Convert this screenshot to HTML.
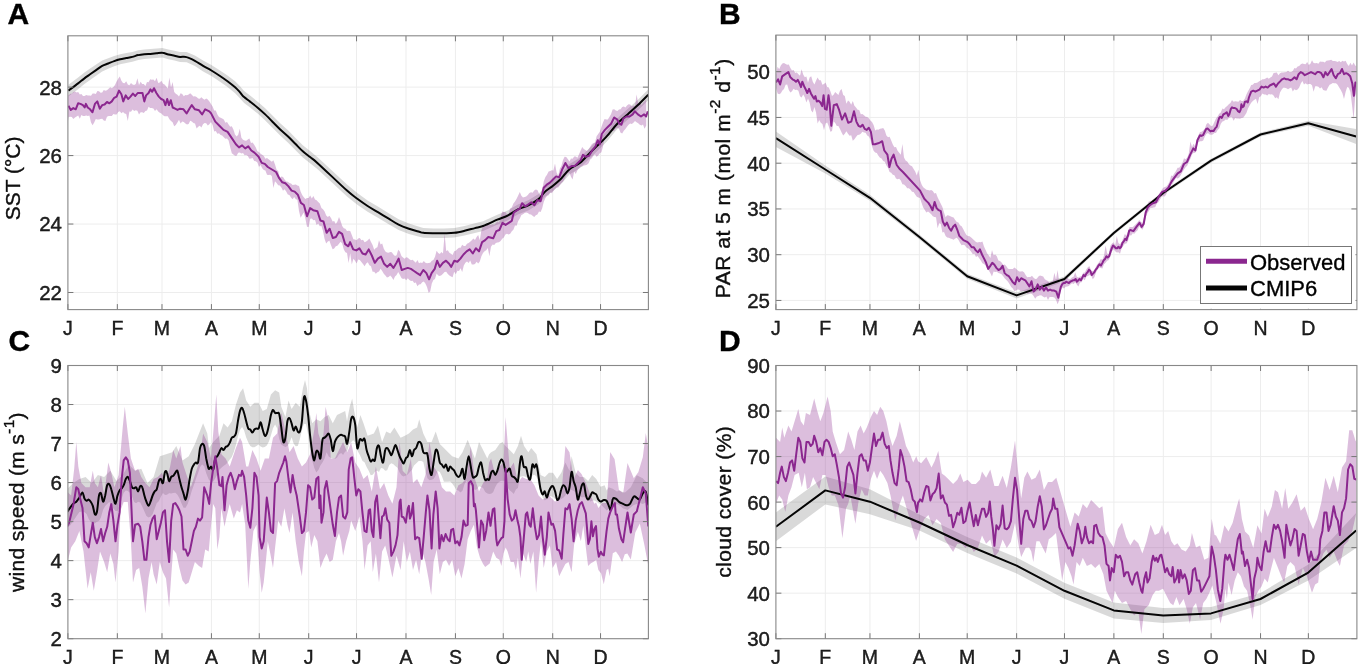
<!DOCTYPE html><html><head><meta charset="utf-8"><style>
html,body{margin:0;padding:0;background:#fff;width:1358px;height:664px;overflow:hidden}
svg{display:block}
text{font-family:"Liberation Sans", sans-serif;fill:#000}
svg{will-change:transform;filter:blur(0.45px)}
text{stroke:currentColor;stroke-width:0.35px}
.tl{font-size:19.5px;fill:#222}
.lab{font-size:21px;fill:#111}
.sup{font-size:15.5px}
.let{font-size:30px;font-weight:bold}
.grid{stroke:#ededed;stroke-width:1;fill:none}
.ax{stroke:#777;stroke-width:1;fill:none}
.box{stroke:#888;stroke-width:1.1;fill:none}
.pl{stroke:#8b278f;stroke-width:2;fill:none;stroke-linejoin:round}
.bl{stroke:#050505;stroke-width:2;fill:none;stroke-linejoin:round}
.pb{fill:#8b278f;fill-opacity:0.3;stroke:none}
.gb{fill:#000;fill-opacity:0.15;stroke:none}
</style></head><body>
<svg width="1358" height="664" viewBox="0 0 1358 664">

<line x1="117.34" y1="35.8" x2="117.34" y2="309.6" class="grid"/>
<line x1="161.99" y1="35.8" x2="161.99" y2="309.6" class="grid"/>
<line x1="211.43" y1="35.8" x2="211.43" y2="309.6" class="grid"/>
<line x1="259.27" y1="35.8" x2="259.27" y2="309.6" class="grid"/>
<line x1="308.71" y1="35.8" x2="308.71" y2="309.6" class="grid"/>
<line x1="356.56" y1="35.8" x2="356.56" y2="309.6" class="grid"/>
<line x1="405.99" y1="35.8" x2="405.99" y2="309.6" class="grid"/>
<line x1="455.43" y1="35.8" x2="455.43" y2="309.6" class="grid"/>
<line x1="503.27" y1="35.8" x2="503.27" y2="309.6" class="grid"/>
<line x1="552.71" y1="35.8" x2="552.71" y2="309.6" class="grid"/>
<line x1="600.56" y1="35.8" x2="600.56" y2="309.6" class="grid"/>
<line x1="67.9" y1="292.49" x2="648.4" y2="292.49" class="grid"/>
<line x1="67.9" y1="224.04" x2="648.4" y2="224.04" class="grid"/>
<line x1="67.9" y1="155.59" x2="648.4" y2="155.59" class="grid"/>
<line x1="67.9" y1="87.14" x2="648.4" y2="87.14" class="grid"/>
<line x1="825.32" y1="35.1" x2="825.32" y2="309.6" class="grid"/>
<line x1="869.96" y1="35.1" x2="869.96" y2="309.6" class="grid"/>
<line x1="919.38" y1="35.1" x2="919.38" y2="309.6" class="grid"/>
<line x1="967.21" y1="35.1" x2="967.21" y2="309.6" class="grid"/>
<line x1="1016.63" y1="35.1" x2="1016.63" y2="309.6" class="grid"/>
<line x1="1064.46" y1="35.1" x2="1064.46" y2="309.6" class="grid"/>
<line x1="1113.88" y1="35.1" x2="1113.88" y2="309.6" class="grid"/>
<line x1="1163.30" y1="35.1" x2="1163.30" y2="309.6" class="grid"/>
<line x1="1211.12" y1="35.1" x2="1211.12" y2="309.6" class="grid"/>
<line x1="1260.55" y1="35.1" x2="1260.55" y2="309.6" class="grid"/>
<line x1="1308.37" y1="35.1" x2="1308.37" y2="309.6" class="grid"/>
<line x1="775.9" y1="300.45" x2="1356.2" y2="300.45" class="grid"/>
<line x1="775.9" y1="254.70" x2="1356.2" y2="254.70" class="grid"/>
<line x1="775.9" y1="208.95" x2="1356.2" y2="208.95" class="grid"/>
<line x1="775.9" y1="163.20" x2="1356.2" y2="163.20" class="grid"/>
<line x1="775.9" y1="117.45" x2="1356.2" y2="117.45" class="grid"/>
<line x1="775.9" y1="71.70" x2="1356.2" y2="71.70" class="grid"/>
<line x1="117.34" y1="365.5" x2="117.34" y2="638.7" class="grid"/>
<line x1="161.99" y1="365.5" x2="161.99" y2="638.7" class="grid"/>
<line x1="211.43" y1="365.5" x2="211.43" y2="638.7" class="grid"/>
<line x1="259.27" y1="365.5" x2="259.27" y2="638.7" class="grid"/>
<line x1="308.71" y1="365.5" x2="308.71" y2="638.7" class="grid"/>
<line x1="356.56" y1="365.5" x2="356.56" y2="638.7" class="grid"/>
<line x1="405.99" y1="365.5" x2="405.99" y2="638.7" class="grid"/>
<line x1="455.43" y1="365.5" x2="455.43" y2="638.7" class="grid"/>
<line x1="503.27" y1="365.5" x2="503.27" y2="638.7" class="grid"/>
<line x1="552.71" y1="365.5" x2="552.71" y2="638.7" class="grid"/>
<line x1="600.56" y1="365.5" x2="600.56" y2="638.7" class="grid"/>
<line x1="67.9" y1="599.67" x2="648.4" y2="599.67" class="grid"/>
<line x1="67.9" y1="560.64" x2="648.4" y2="560.64" class="grid"/>
<line x1="67.9" y1="521.61" x2="648.4" y2="521.61" class="grid"/>
<line x1="67.9" y1="482.59" x2="648.4" y2="482.59" class="grid"/>
<line x1="67.9" y1="443.56" x2="648.4" y2="443.56" class="grid"/>
<line x1="67.9" y1="404.53" x2="648.4" y2="404.53" class="grid"/>
<line x1="825.32" y1="365.5" x2="825.32" y2="638.7" class="grid"/>
<line x1="869.96" y1="365.5" x2="869.96" y2="638.7" class="grid"/>
<line x1="919.38" y1="365.5" x2="919.38" y2="638.7" class="grid"/>
<line x1="967.21" y1="365.5" x2="967.21" y2="638.7" class="grid"/>
<line x1="1016.63" y1="365.5" x2="1016.63" y2="638.7" class="grid"/>
<line x1="1064.46" y1="365.5" x2="1064.46" y2="638.7" class="grid"/>
<line x1="1113.88" y1="365.5" x2="1113.88" y2="638.7" class="grid"/>
<line x1="1163.30" y1="365.5" x2="1163.30" y2="638.7" class="grid"/>
<line x1="1211.12" y1="365.5" x2="1211.12" y2="638.7" class="grid"/>
<line x1="1260.55" y1="365.5" x2="1260.55" y2="638.7" class="grid"/>
<line x1="1308.37" y1="365.5" x2="1308.37" y2="638.7" class="grid"/>
<line x1="775.9" y1="593.17" x2="1356.2" y2="593.17" class="grid"/>
<line x1="775.9" y1="547.63" x2="1356.2" y2="547.63" class="grid"/>
<line x1="775.9" y1="502.10" x2="1356.2" y2="502.10" class="grid"/>
<line x1="775.9" y1="456.57" x2="1356.2" y2="456.57" class="grid"/>
<line x1="775.9" y1="411.03" x2="1356.2" y2="411.03" class="grid"/>
<defs><clipPath id="cpA"><rect x="67.9" y="35.8" width="580.5" height="273.8"/></clipPath><clipPath id="cpB"><rect x="775.9" y="35.1" width="580.3" height="274.5"/></clipPath><clipPath id="cpC"><rect x="67.9" y="365.5" width="580.5" height="273.20000000000005"/></clipPath><clipPath id="cpD"><rect x="775.9" y="365.5" width="580.3" height="273.20000000000005"/></clipPath></defs>
<g clip-path="url(#cpA)">
<path class="gb" d="M68.4,84.8 L78.1,77.6 L84.1,72.8 L90.1,68.6 L96.1,64.5 L102.2,60.4 L108.2,58.2 L114.2,56.0 L120.2,54.2 L126.3,53.1 L132.3,51.9 L138.3,50.2 L144.3,49.4 L150.4,49.1 L156.4,48.6 L162.4,47.9 L168.4,49.6 L174.5,50.8 L180.0,51.9 L186.6,51.9 L194.9,55.5 L203.1,60.4 L211.4,64.9 L220.0,70.4 L227.5,75.5 L235.1,81.3 L239.6,85.8 L244.1,91.1 L250.1,95.6 L257.7,101.7 L265.2,108.3 L272.7,115.8 L280.2,123.3 L287.8,130.1 L295.3,137.7 L302.8,145.3 L310.4,151.3 L317.9,157.4 L347.0,184.6 L357.3,192.9 L367.6,200.4 L377.9,206.6 L388.3,212.9 L398.6,219.2 L408.9,223.5 L419.2,226.8 L423.3,228.0 L433.6,228.6 L443.9,228.6 L454.3,228.1 L464.6,226.0 L474.9,223.3 L483.1,221.2 L497.3,214.8 L507.6,210.6 L517.9,204.4 L528.3,200.2 L538.6,194.0 L544.8,186.6 L553.0,180.3 L561.3,173.2 L569.5,163.9 L579.8,157.7 L590.1,147.4 L596.6,140.9 L606.9,130.7 L617.3,118.3 L627.6,109.0 L637.9,99.8 L648.2,89.5 L648.2,100.2 L637.9,110.5 L627.6,119.8 L617.3,129.1 L606.9,141.5 L596.6,151.8 L590.1,158.0 L579.8,168.3 L569.5,174.5 L561.3,183.7 L553.0,191.1 L544.8,197.1 L538.6,204.2 L528.3,210.4 L517.9,214.4 L507.6,220.6 L497.3,224.7 L483.1,230.9 L474.9,232.9 L464.6,235.5 L454.3,237.5 L443.9,237.9 L433.6,237.9 L423.3,237.7 L419.2,236.8 L408.9,234.0 L398.6,230.0 L388.3,223.9 L377.9,217.8 L367.6,211.7 L357.3,204.7 L347.0,196.5 L317.9,169.4 L310.4,163.4 L302.8,157.4 L295.3,149.9 L287.8,142.4 L280.2,135.6 L272.7,128.1 L265.2,120.5 L257.7,113.6 L250.1,107.6 L244.1,103.1 L239.6,97.9 L235.1,93.3 L227.5,87.1 L220.0,81.7 L211.4,76.1 L203.1,71.4 L194.9,66.1 L186.6,62.2 L180.0,61.9 L174.5,60.6 L168.4,59.3 L162.4,57.4 L156.4,57.9 L150.4,58.6 L144.3,59.1 L138.3,59.9 L132.3,61.8 L126.3,63.1 L120.2,64.3 L114.2,66.2 L108.2,68.8 L102.2,71.4 L96.1,75.7 L90.1,80.1 L84.1,84.3 L78.1,89.2 L68.4,96.4 Z"/>
<path class="pb" d="M67.0,93.2 L68.6,95.4 L70.2,93.7 L71.8,93.8 L73.4,92.1 L75.0,91.4 L76.6,92.5 L78.2,92.0 L79.8,94.5 L81.4,94.1 L83.0,96.1 L84.6,96.1 L86.2,94.9 L87.8,95.6 L89.4,95.5 L91.0,95.8 L92.6,93.6 L94.2,93.5 L95.8,93.9 L97.4,90.9 L99.0,91.3 L100.6,92.8 L102.2,92.4 L103.8,90.1 L105.4,90.8 L107.0,90.2 L108.6,88.7 L110.2,87.2 L111.8,88.3 L113.4,86.9 L115.0,84.9 L116.6,81.6 L118.2,78.8 L119.8,76.4 L121.4,80.8 L123.0,82.9 L124.6,83.3 L126.2,81.3 L127.8,84.4 L129.4,85.3 L131.0,82.9 L132.6,84.5 L134.2,84.9 L135.8,83.9 L137.4,78.3 L139.0,85.1 L140.6,81.7 L142.2,84.1 L143.8,84.1 L145.4,85.9 L147.0,82.1 L148.6,82.2 L150.2,79.3 L151.8,79.8 L153.4,79.6 L155.0,81.3 L156.6,77.8 L158.2,82.9 L159.8,82.4 L161.4,80.7 L163.0,83.8 L164.6,84.6 L166.2,86.6 L167.8,88.4 L169.4,77.5 L171.0,87.4 L172.6,82.0 L174.2,91.9 L175.8,93.8 L177.4,94.7 L179.0,96.5 L180.6,93.3 L182.2,93.9 L183.8,96.3 L185.4,95.0 L187.0,95.2 L188.6,94.5 L190.2,93.3 L191.8,94.8 L193.4,96.4 L195.0,96.2 L196.6,97.0 L198.2,98.5 L199.8,98.7 L201.4,97.2 L203.0,98.7 L204.6,99.7 L206.2,98.4 L207.8,99.4 L209.4,101.4 L211.0,104.0 L212.6,106.4 L214.2,110.5 L215.8,110.5 L217.4,114.6 L219.0,117.0 L220.6,117.8 L222.2,118.5 L223.8,119.5 L225.4,122.7 L227.0,122.0 L228.6,124.4 L230.2,126.7 L231.8,126.3 L233.4,129.6 L235.0,134.5 L236.6,136.4 L238.2,134.7 L239.8,128.7 L241.4,137.7 L243.0,139.8 L244.6,140.4 L246.2,140.8 L247.8,139.4 L249.4,138.4 L251.0,143.0 L252.6,142.6 L254.2,144.8 L255.8,147.4 L257.4,151.3 L259.0,152.0 L260.6,153.8 L262.2,154.7 L263.8,156.1 L265.4,158.7 L267.0,158.1 L268.6,159.3 L270.2,160.5 L271.8,161.7 L273.4,160.3 L275.0,164.5 L276.6,169.8 L278.2,170.9 L279.8,177.8 L281.4,176.5 L283.0,177.1 L284.6,179.4 L286.2,181.5 L287.8,181.7 L289.4,183.1 L291.0,183.5 L292.6,185.0 L294.2,184.7 L295.8,184.4 L297.4,185.4 L299.0,186.0 L300.6,191.6 L302.2,194.9 L303.8,197.2 L305.4,199.0 L307.0,198.1 L308.6,198.1 L310.2,195.5 L311.8,198.4 L313.4,196.0 L315.0,199.5 L316.6,200.3 L318.2,202.0 L319.8,203.5 L321.4,208.1 L323.0,209.3 L324.6,211.5 L326.2,215.4 L327.8,216.9 L329.4,215.8 L331.0,218.0 L332.6,221.5 L334.2,220.9 L335.8,224.0 L337.4,221.4 L339.0,217.1 L340.6,221.0 L342.2,226.1 L343.8,228.3 L345.4,228.8 L347.0,231.1 L348.6,230.7 L350.2,231.1 L351.8,235.0 L353.4,239.2 L355.0,239.5 L356.6,240.3 L358.2,238.5 L359.8,237.9 L361.4,240.3 L363.0,239.7 L364.6,242.3 L366.2,241.6 L367.8,240.3 L369.4,238.4 L371.0,242.0 L372.6,245.1 L374.2,249.8 L375.8,248.0 L377.4,247.2 L379.0,240.3 L380.6,244.5 L382.2,243.6 L383.8,248.7 L385.4,251.4 L387.0,252.5 L388.6,252.7 L390.2,251.9 L391.8,252.3 L393.4,254.5 L395.0,256.1 L396.6,255.3 L398.2,249.8 L399.8,251.4 L401.4,255.9 L403.0,257.6 L404.6,258.8 L406.2,257.2 L407.8,257.7 L409.4,259.3 L411.0,260.3 L412.6,259.7 L414.2,261.2 L415.8,262.8 L417.4,260.1 L419.0,263.3 L420.6,262.4 L422.2,262.9 L423.8,261.0 L425.4,262.7 L427.0,263.2 L428.6,263.1 L430.2,262.7 L431.8,260.8 L433.4,259.9 L435.0,256.8 L436.6,250.8 L438.2,253.0 L439.8,254.1 L441.4,252.1 L443.0,253.5 L444.6,233.7 L446.2,251.0 L447.8,250.2 L449.4,252.7 L451.0,253.8 L452.6,254.9 L454.2,251.3 L455.8,250.7 L457.4,248.9 L459.0,247.7 L460.6,247.8 L462.2,244.8 L463.8,246.0 L465.4,245.9 L467.0,243.8 L468.6,243.1 L470.2,241.7 L471.8,240.3 L473.4,238.4 L475.0,240.0 L476.6,237.1 L478.2,234.9 L479.8,240.2 L481.4,230.3 L483.0,226.5 L484.6,225.5 L486.2,226.3 L487.8,224.0 L489.4,224.5 L491.0,225.0 L492.6,224.2 L494.2,224.7 L495.8,223.2 L497.4,221.5 L499.0,222.6 L500.6,217.0 L502.2,211.6 L503.8,212.0 L505.4,212.1 L507.0,214.2 L508.6,214.1 L510.2,208.5 L511.8,207.4 L513.4,203.6 L515.0,201.4 L516.6,198.7 L518.2,195.4 L519.8,192.1 L521.4,195.8 L523.0,197.6 L524.6,196.9 L526.2,196.4 L527.8,195.0 L529.4,192.9 L531.0,192.2 L532.6,192.7 L534.2,190.5 L535.8,189.5 L537.4,189.9 L539.0,193.5 L540.6,195.7 L542.2,189.8 L543.8,181.3 L545.4,177.1 L547.0,174.8 L548.6,171.6 L550.2,171.1 L551.8,170.3 L553.4,170.4 L555.0,163.5 L556.6,172.4 L558.2,175.7 L559.8,168.8 L561.4,166.1 L563.0,160.0 L564.6,156.8 L566.2,157.0 L567.8,158.9 L569.4,161.5 L571.0,158.5 L572.6,158.8 L574.2,156.4 L575.8,156.6 L577.4,157.7 L579.0,154.2 L580.6,150.7 L582.2,146.9 L583.8,149.0 L585.4,150.1 L587.0,150.9 L588.6,149.3 L590.2,146.7 L591.8,144.3 L593.4,143.1 L595.0,142.4 L596.6,136.2 L598.2,133.9 L599.8,131.7 L601.4,127.1 L603.0,122.6 L604.6,118.9 L606.2,119.5 L607.8,119.5 L609.4,117.1 L611.0,114.2 L612.6,109.6 L614.2,109.2 L615.8,110.4 L617.4,111.0 L619.0,109.4 L620.6,109.2 L622.2,106.9 L623.8,106.4 L625.4,107.5 L627.0,105.4 L628.6,104.3 L630.2,104.6 L631.8,106.5 L633.4,105.5 L635.0,105.9 L636.6,94.4 L638.2,103.5 L639.8,101.6 L641.4,105.1 L643.0,102.8 L644.6,101.2 L646.2,99.0 L646.2,125.4 L644.6,128.7 L643.0,124.4 L641.4,125.4 L639.8,124.8 L638.2,123.2 L636.6,122.3 L635.0,121.1 L633.4,122.8 L631.8,124.1 L630.2,123.4 L628.6,124.7 L627.0,126.7 L625.4,129.0 L623.8,130.8 L622.2,133.4 L620.6,132.7 L619.0,128.8 L617.4,128.0 L615.8,128.4 L614.2,131.0 L612.6,130.9 L611.0,131.3 L609.4,135.3 L607.8,135.8 L606.2,137.7 L604.6,138.6 L603.0,146.4 L601.4,152.3 L599.8,153.3 L598.2,155.4 L596.6,156.7 L595.0,154.5 L593.4,155.7 L591.8,158.2 L590.2,159.4 L588.6,163.3 L587.0,164.8 L585.4,165.2 L583.8,165.5 L582.2,166.6 L580.6,166.7 L579.0,168.2 L577.4,170.3 L575.8,173.9 L574.2,171.6 L572.6,179.4 L571.0,176.8 L569.4,172.7 L567.8,173.4 L566.2,175.7 L564.6,178.8 L563.0,181.7 L561.4,183.1 L559.8,185.2 L558.2,187.5 L556.6,187.6 L555.0,189.1 L553.4,190.9 L551.8,193.3 L550.2,192.4 L548.6,195.3 L547.0,195.9 L545.4,197.9 L543.8,201.7 L542.2,208.3 L540.6,211.9 L539.0,211.6 L537.4,214.5 L535.8,215.3 L534.2,216.9 L532.6,215.8 L531.0,214.6 L529.4,214.3 L527.8,212.9 L526.2,212.5 L524.6,212.9 L523.0,214.2 L521.4,214.9 L519.8,218.5 L518.2,220.9 L516.6,225.7 L515.0,225.6 L513.4,229.7 L511.8,231.2 L510.2,233.8 L508.6,234.4 L507.0,233.7 L505.4,234.6 L503.8,237.4 L502.2,238.8 L500.6,240.9 L499.0,242.3 L497.4,242.4 L495.8,243.0 L494.2,245.0 L492.6,244.4 L491.0,246.7 L489.4,256.2 L487.8,247.9 L486.2,250.3 L484.6,251.3 L483.0,253.0 L481.4,256.2 L479.8,261.5 L478.2,263.4 L476.6,261.7 L475.0,264.0 L473.4,264.6 L471.8,264.6 L470.2,260.5 L468.6,263.0 L467.0,261.6 L465.4,262.8 L463.8,265.5 L462.2,272.1 L460.6,268.2 L459.0,271.1 L457.4,270.7 L455.8,274.3 L454.2,271.7 L452.6,277.2 L451.0,276.4 L449.4,275.5 L447.8,274.0 L446.2,271.8 L444.6,271.9 L443.0,273.7 L441.4,275.3 L439.8,276.1 L438.2,275.6 L436.6,273.4 L435.0,278.9 L433.4,280.1 L431.8,283.4 L430.2,291.5 L428.6,292.8 L427.0,286.9 L425.4,283.4 L423.8,281.4 L422.2,282.2 L420.6,284.2 L419.0,284.5 L417.4,286.3 L415.8,282.6 L414.2,283.0 L412.6,280.8 L411.0,281.0 L409.4,280.1 L407.8,278.3 L406.2,280.3 L404.6,278.4 L403.0,279.1 L401.4,278.0 L399.8,274.8 L398.2,272.1 L396.6,275.1 L395.0,276.6 L393.4,280.0 L391.8,277.2 L390.2,275.6 L388.6,276.9 L387.0,277.5 L385.4,275.6 L383.8,273.8 L382.2,271.1 L380.6,268.8 L379.0,271.4 L377.4,272.2 L375.8,273.7 L374.2,271.8 L372.6,271.7 L371.0,266.2 L369.4,265.2 L367.8,262.3 L366.2,263.4 L364.6,266.2 L363.0,264.1 L361.4,261.9 L359.8,260.1 L358.2,259.4 L356.6,263.4 L355.0,260.7 L353.4,258.8 L351.8,264.5 L350.2,253.3 L348.6,262.9 L347.0,253.0 L345.4,252.2 L343.8,249.4 L342.2,243.6 L340.6,241.8 L339.0,243.7 L337.4,245.7 L335.8,246.3 L334.2,248.4 L332.6,249.3 L331.0,245.2 L329.4,240.7 L327.8,241.6 L326.2,243.5 L324.6,239.0 L323.0,230.9 L321.4,226.1 L319.8,226.3 L318.2,223.5 L316.6,224.9 L315.0,219.9 L313.4,220.3 L311.8,218.4 L310.2,218.8 L308.6,226.9 L307.0,226.8 L305.4,218.7 L303.8,212.5 L302.2,215.0 L300.6,217.7 L299.0,211.1 L297.4,199.8 L295.8,199.2 L294.2,197.1 L292.6,199.2 L291.0,197.4 L289.4,194.9 L287.8,194.5 L286.2,191.5 L284.6,189.2 L283.0,190.8 L281.4,187.6 L279.8,185.5 L278.2,185.3 L276.6,183.1 L275.0,181.2 L273.4,187.9 L271.8,175.9 L270.2,174.8 L268.6,174.9 L267.0,174.7 L265.4,170.4 L263.8,169.9 L262.2,168.3 L260.6,165.1 L259.0,166.9 L257.4,162.4 L255.8,161.3 L254.2,160.9 L252.6,158.0 L251.0,158.4 L249.4,158.7 L247.8,155.9 L246.2,155.1 L244.6,155.3 L243.0,152.9 L241.4,153.4 L239.8,152.4 L238.2,152.7 L236.6,155.8 L235.0,155.7 L233.4,154.5 L231.8,153.3 L230.2,147.2 L228.6,140.4 L227.0,138.5 L225.4,138.7 L223.8,137.3 L222.2,135.4 L220.6,134.9 L219.0,133.2 L217.4,133.8 L215.8,131.1 L214.2,131.5 L212.6,124.9 L211.0,122.0 L209.4,124.2 L207.8,125.4 L206.2,123.3 L204.6,123.1 L203.0,124.3 L201.4,127.4 L199.8,125.8 L198.2,126.7 L196.6,128.5 L195.0,123.5 L193.4,123.0 L191.8,121.4 L190.2,120.7 L188.6,124.1 L187.0,124.4 L185.4,123.6 L183.8,122.1 L182.2,121.6 L180.6,123.6 L179.0,119.8 L177.4,122.6 L175.8,124.9 L174.2,126.2 L172.6,122.3 L171.0,121.0 L169.4,119.2 L167.8,116.3 L166.2,116.2 L164.6,116.3 L163.0,115.2 L161.4,113.4 L159.8,112.7 L158.2,111.5 L156.6,109.2 L155.0,111.0 L153.4,108.4 L151.8,107.9 L150.2,107.9 L148.6,106.7 L147.0,110.5 L145.4,110.9 L143.8,112.9 L142.2,112.3 L140.6,112.3 L139.0,114.4 L137.4,110.7 L135.8,110.3 L134.2,110.9 L132.6,109.5 L131.0,111.7 L129.4,111.6 L127.8,121.0 L126.2,114.0 L124.6,113.6 L123.0,112.0 L121.4,113.2 L119.8,111.3 L118.2,112.0 L116.6,114.6 L115.0,114.5 L113.4,114.1 L111.8,116.0 L110.2,116.0 L108.6,115.9 L107.0,116.8 L105.4,120.9 L103.8,120.4 L102.2,118.7 L100.6,118.9 L99.0,119.6 L97.4,119.4 L95.8,119.0 L94.2,122.6 L92.6,125.3 L91.0,122.4 L89.4,115.4 L87.8,116.0 L86.2,115.5 L84.6,116.0 L83.0,116.0 L81.4,115.1 L79.8,118.8 L78.2,115.5 L76.6,116.6 L75.0,117.4 L73.4,119.0 L71.8,117.0 L70.2,116.7 L68.6,117.1 L67.0,127.5 Z"/>
<path class="bl" d="M68.4,90.6 C70.0,89.4 75.5,85.4 78.1,83.4 C80.7,81.4 82.1,80.1 84.1,78.6 C86.1,77.0 88.1,75.7 90.1,74.3 C92.1,72.9 94.1,71.5 96.1,70.1 C98.2,68.7 100.2,67.0 102.2,65.9 C104.2,64.8 106.2,64.3 108.2,63.5 C110.2,62.7 112.2,61.8 114.2,61.1 C116.2,60.4 118.2,59.8 120.2,59.3 C122.2,58.8 124.3,58.5 126.3,58.1 C128.3,57.7 130.3,57.4 132.3,56.9 C134.3,56.4 136.3,55.5 138.3,55.1 C140.3,54.6 142.3,54.4 144.3,54.2 C146.3,54.0 148.4,54.0 150.4,53.9 C152.4,53.7 154.4,53.5 156.4,53.3 C158.4,53.1 160.4,52.4 162.4,52.7 C164.4,52.9 166.4,54.0 168.4,54.5 C170.4,55.0 172.5,55.3 174.5,55.7 C176.4,56.1 178.0,56.6 180.0,56.9 C182.0,57.1 184.2,56.4 186.6,57.1 C189.1,57.7 192.1,59.3 194.9,60.8 C197.6,62.3 200.4,64.3 203.1,65.9 C205.9,67.6 208.6,68.8 211.4,70.5 C214.2,72.2 217.3,74.2 220.0,76.0 C222.7,77.8 225.0,79.4 227.5,81.3 C230.0,83.2 233.1,85.6 235.1,87.3 C237.1,89.1 238.1,90.2 239.6,91.8 C241.1,93.5 242.3,95.5 244.1,97.1 C245.9,98.7 247.9,99.9 250.1,101.6 C252.4,103.4 255.1,105.5 257.7,107.7 C260.2,109.8 262.7,112.0 265.2,114.4 C267.7,116.8 270.2,119.4 272.7,122.0 C275.2,124.5 277.7,127.1 280.2,129.5 C282.8,131.9 285.3,133.9 287.8,136.3 C290.3,138.6 292.8,141.3 295.3,143.8 C297.8,146.3 300.3,149.1 302.8,151.3 C305.3,153.6 307.9,155.3 310.4,157.3 C312.9,159.4 311.8,157.8 317.9,163.4 C324.0,168.9 340.4,184.7 347.0,190.6 C353.6,196.5 353.9,196.2 357.3,198.8 C360.8,201.4 364.2,203.8 367.6,206.0 C371.1,208.3 374.5,210.2 377.9,212.2 C381.4,214.3 384.8,216.3 388.3,218.4 C391.7,220.5 395.1,222.9 398.6,224.6 C402.0,226.3 405.4,227.5 408.9,228.7 C412.3,229.9 416.8,231.1 419.2,231.8 C421.6,232.5 420.9,232.6 423.3,232.8 C425.7,233.1 430.2,233.2 433.6,233.3 C437.1,233.3 440.5,233.3 443.9,233.3 C447.4,233.2 450.8,233.3 454.3,232.8 C457.7,232.4 461.1,231.6 464.6,230.8 C468.0,230.0 471.8,228.9 474.9,228.1 C478.0,227.3 479.4,227.4 483.1,226.0 C486.9,224.6 493.2,221.5 497.3,219.7 C501.4,218.0 504.2,217.3 507.6,215.6 C511.1,213.9 514.5,211.1 517.9,209.4 C521.4,207.7 524.8,207.0 528.3,205.3 C531.7,203.6 535.8,201.3 538.6,199.1 C541.3,196.9 542.3,194.1 544.8,191.9 C547.2,189.6 550.3,187.9 553.0,185.7 C555.8,183.5 558.5,181.2 561.3,178.5 C564.0,175.7 566.4,171.8 569.5,169.2 C572.6,166.6 576.4,165.8 579.8,163.0 C583.3,160.3 587.3,155.5 590.1,152.7 C592.9,149.9 593.8,149.2 596.6,146.4 C599.4,143.6 603.5,139.9 606.9,136.1 C610.4,132.3 613.8,127.3 617.3,123.7 C620.7,120.1 624.1,117.5 627.6,114.4 C631.0,111.3 634.4,108.4 637.9,105.1 C641.3,101.9 646.5,96.5 648.2,94.8"/>
<path class="pl" d="M68.4,105.7 L70.8,109.9 L73.3,108.1 L75.7,109.3 L78.1,103.3 L80.5,103.9 L82.9,105.1 L84.7,107.5 L85.9,103.9 L87.7,107.5 L90.1,109.3 L92.5,112.3 L94.9,103.9 L97.3,101.4 L99.8,108.7 L102.2,105.1 L104.6,104.5 L107.0,102.0 L109.4,103.3 L111.8,101.4 L114.2,97.8 L116.6,96.6 L119.0,90.6 L121.4,94.2 L123.3,101.4 L125.7,95.4 L128.1,99.0 L130.5,96.6 L132.9,93.6 L135.3,96.0 L137.7,93.0 L140.1,93.0 L142.5,93.0 L144.3,101.4 L146.1,95.4 L148.6,93.0 L150.4,89.4 L152.2,91.8 L154.0,88.2 L156.4,93.0 L158.8,96.6 L161.2,99.0 L163.6,100.2 L165.4,105.1 L167.2,99.0 L169.0,105.1 L170.8,100.2 L172.7,107.5 L175.1,108.7 L177.5,109.9 L180.0,108.7 L183.5,109.3 L186.6,113.4 L189.7,108.2 L191.8,105.1 L194.9,109.3 L199.0,110.3 L202.1,114.4 L205.2,109.3 L209.3,111.3 L211.1,113.4 L215.3,121.6 L219.4,125.8 L223.5,129.9 L227.6,131.9 L231.8,138.1 L235.9,144.3 L239.0,147.4 L242.1,145.4 L245.2,148.4 L248.3,146.4 L251.3,150.5 L254.4,152.6 L258.6,156.7 L261.7,162.9 L264.8,163.9 L267.8,167.0 L276.1,172.0 L279.2,178.2 L282.3,182.3 L285.4,183.3 L288.5,186.4 L291.6,190.6 L294.7,191.6 L297.8,194.7 L300.9,202.9 L303.9,205.0 L307.0,216.3 L310.1,208.1 L313.2,210.2 L317.4,211.2 L320.4,220.5 L323.5,221.5 L326.6,232.8 L329.7,228.7 L332.8,238.0 L335.9,237.0 L339.0,231.8 L342.1,233.9 L345.2,244.2 L348.3,246.3 L350.1,242.1 L353.2,249.4 L356.3,250.4 L359.4,248.3 L362.5,253.5 L365.6,254.5 L368.7,249.4 L371.8,255.5 L374.8,262.8 L377.9,258.6 L381.0,256.6 L384.1,263.8 L387.2,266.9 L390.3,263.8 L393.4,267.9 L396.5,262.8 L398.6,258.6 L401.7,270.0 L404.8,268.9 L407.8,267.9 L410.9,268.9 L414.0,271.0 L417.1,273.1 L420.2,275.1 L423.3,270.0 L426.4,273.1 L429.1,279.3 L431.6,273.1 L434.7,268.9 L437.1,260.7 L439.8,266.9 L442.9,262.8 L446.0,260.7 L449.1,263.8 L451.2,266.9 L454.3,260.7 L457.4,261.7 L460.4,258.6 L463.5,254.5 L466.6,251.4 L469.7,249.4 L472.8,253.5 L475.9,248.3 L479.0,251.4 L482.1,242.1 L485.2,240.1 L488.3,237.0 L493.2,238.3 L496.3,231.1 L499.4,230.0 L502.5,222.8 L505.6,224.9 L508.7,222.8 L511.8,220.8 L513.8,212.5 L516.9,210.4 L520.0,208.4 L522.1,203.2 L525.2,206.3 L528.3,204.3 L531.3,202.2 L534.4,205.3 L537.5,200.1 L540.6,201.2 L543.7,187.8 L546.8,184.7 L549.9,182.6 L553.0,179.5 L556.1,176.4 L559.2,177.4 L562.3,169.2 L565.4,163.0 L568.5,168.2 L571.6,166.1 L574.7,166.1 L577.8,163.0 L580.9,159.9 L582.9,154.8 L586.0,156.8 L589.1,155.8 L592.2,150.6 L595.3,146.5 L595.6,146.4 L597.7,140.2 L599.7,144.3 L601.8,134.0 L604.9,129.9 L608.0,126.8 L611.1,123.7 L614.2,117.5 L617.3,119.6 L619.3,123.7 L621.4,124.7 L623.4,118.5 L626.5,116.5 L629.6,116.5 L632.7,114.4 L634.8,111.3 L637.9,114.4 L641.0,116.5 L644.1,114.4 L646.1,116.5 L647.8,111.3"/>
</g>
<g clip-path="url(#cpB)">
<path class="gb" d="M775.9,131.6 L825.3,165.5 L869.9,194.8 L919.4,234.5 L967.2,273.7 L1016.6,292.4 L1064.4,276.5 L1113.8,231.0 L1163.2,191.0 L1211.0,158.7 L1260.5,132.5 L1308.3,120.8 L1356.1,129.0 L1356.1,144.0 L1308.3,125.8 L1260.5,136.5 L1211.0,162.7 L1163.2,195.0 L1113.8,235.0 L1064.4,281.5 L1016.6,298.4 L967.2,278.7 L919.4,239.5 L869.9,200.8 L825.3,173.5 L775.9,147.1 Z"/>
<path class="pb" d="M776.0,74.5 L777.6,66.8 L779.2,69.3 L780.8,65.6 L782.4,63.6 L784.0,63.0 L785.6,64.1 L787.2,64.7 L788.8,64.6 L790.4,67.9 L792.0,70.4 L793.6,70.1 L795.2,73.1 L796.8,72.4 L798.4,74.2 L800.0,75.8 L801.6,69.3 L803.2,74.5 L804.8,77.3 L806.4,76.5 L808.0,82.8 L809.6,77.6 L811.2,76.2 L812.8,81.7 L814.4,84.4 L816.0,80.8 L817.6,77.5 L819.2,80.3 L820.8,80.3 L822.4,84.7 L824.0,83.9 L825.6,82.6 L827.2,87.1 L828.8,87.5 L830.4,91.2 L832.0,96.1 L833.6,94.7 L835.2,92.1 L836.8,93.6 L838.4,95.0 L840.0,90.8 L841.6,88.9 L843.2,95.1 L844.8,96.1 L846.4,103.7 L848.0,100.5 L849.6,101.8 L851.2,104.8 L852.8,101.0 L854.4,105.7 L856.0,107.4 L857.6,109.7 L859.2,109.9 L860.8,114.3 L862.4,114.1 L864.0,115.3 L865.6,116.8 L867.2,116.9 L868.8,118.3 L870.4,120.5 L872.0,122.0 L873.6,125.1 L875.2,130.5 L876.8,129.4 L878.4,129.7 L880.0,128.7 L881.6,128.4 L883.2,128.0 L884.8,130.6 L886.4,135.6 L888.0,137.3 L889.6,136.8 L891.2,140.6 L892.8,144.6 L894.4,147.2 L896.0,147.0 L897.6,150.8 L899.2,152.7 L900.8,154.8 L902.4,143.9 L904.0,157.5 L905.6,160.6 L907.2,161.5 L908.8,164.1 L910.4,165.4 L912.0,166.3 L913.6,168.9 L915.2,171.6 L916.8,175.6 L918.4,169.8 L920.0,179.9 L921.6,184.4 L923.2,187.2 L924.8,188.5 L926.4,189.8 L928.0,190.1 L929.6,190.6 L931.2,190.1 L932.8,191.1 L934.4,193.6 L936.0,193.0 L937.6,197.2 L939.2,200.4 L940.8,203.8 L942.4,207.1 L944.0,212.5 L945.6,217.2 L947.2,215.3 L948.8,215.6 L950.4,216.2 L952.0,216.9 L953.6,217.6 L955.2,220.0 L956.8,222.0 L958.4,222.6 L960.0,225.3 L961.6,226.3 L963.2,229.1 L964.8,232.3 L966.4,235.0 L968.0,236.0 L969.6,236.3 L971.2,237.6 L972.8,238.9 L974.4,240.5 L976.0,242.1 L977.6,242.6 L979.2,242.0 L980.8,242.3 L982.4,241.6 L984.0,246.6 L985.6,250.1 L987.2,253.6 L988.8,255.4 L990.4,258.0 L992.0,249.9 L993.6,255.2 L995.2,254.6 L996.8,256.2 L998.4,260.4 L1000.0,261.1 L1001.6,262.6 L1003.2,265.1 L1004.8,264.6 L1006.4,266.3 L1008.0,268.7 L1009.6,269.1 L1011.2,269.0 L1012.8,269.0 L1014.4,267.6 L1016.0,268.8 L1017.6,270.3 L1019.2,271.6 L1020.8,271.4 L1022.4,271.3 L1024.0,272.3 L1025.6,275.1 L1027.2,277.3 L1028.8,277.0 L1030.4,277.0 L1032.0,275.7 L1033.6,277.8 L1035.2,279.1 L1036.8,278.8 L1038.4,276.6 L1040.0,275.4 L1041.6,276.0 L1043.2,276.6 L1044.8,279.3 L1046.4,280.2 L1048.0,281.1 L1049.6,282.7 L1051.2,281.5 L1052.8,281.1 L1054.4,272.8 L1056.0,279.6 L1057.6,269.9 L1059.2,282.0 L1060.8,283.5 L1062.4,279.1 L1064.0,278.5 L1065.6,278.4 L1067.2,277.2 L1068.8,279.3 L1070.4,279.0 L1072.0,277.4 L1073.6,276.8 L1075.2,272.3 L1076.8,276.7 L1078.4,277.4 L1080.0,276.4 L1081.6,276.3 L1083.2,272.8 L1084.8,272.4 L1086.4,269.3 L1088.0,266.9 L1089.6,266.2 L1091.2,271.0 L1092.8,271.0 L1094.4,270.1 L1096.0,266.4 L1097.6,264.1 L1099.2,261.9 L1100.8,259.0 L1102.4,259.8 L1104.0,255.5 L1105.6,245.6 L1107.2,253.4 L1108.8,254.0 L1110.4,245.8 L1112.0,243.4 L1113.6,242.3 L1115.2,245.2 L1116.8,236.1 L1118.4,243.0 L1120.0,244.3 L1121.6,241.9 L1123.2,238.2 L1124.8,234.0 L1126.4,235.6 L1128.0,231.3 L1129.6,227.1 L1131.2,226.9 L1132.8,226.9 L1134.4,225.4 L1136.0,224.1 L1137.6,222.2 L1139.2,220.0 L1140.8,221.8 L1142.4,223.0 L1144.0,217.6 L1145.6,210.6 L1147.2,204.9 L1148.8,201.6 L1150.4,201.3 L1152.0,200.8 L1153.6,199.6 L1155.2,198.3 L1156.8,196.7 L1158.4,194.9 L1160.0,192.6 L1161.6,190.1 L1163.2,187.7 L1164.8,187.0 L1166.4,186.5 L1168.0,184.4 L1169.6,181.4 L1171.2,175.4 L1172.8,176.0 L1174.4,173.2 L1176.0,171.1 L1177.6,167.7 L1179.2,167.8 L1180.8,165.4 L1182.4,163.0 L1184.0,158.3 L1185.6,159.2 L1187.2,157.8 L1188.8,153.5 L1190.4,141.4 L1192.0,147.1 L1193.6,143.8 L1195.2,146.8 L1196.8,140.0 L1198.4,135.2 L1200.0,132.1 L1201.6,131.8 L1203.2,130.4 L1204.8,128.8 L1206.4,124.2 L1208.0,122.8 L1209.6,124.4 L1211.2,126.2 L1212.8,125.5 L1214.4,121.9 L1216.0,118.6 L1217.6,116.4 L1219.2,113.8 L1220.8,112.6 L1222.4,108.5 L1224.0,109.2 L1225.6,107.2 L1227.2,106.0 L1228.8,104.3 L1230.4,103.1 L1232.0,100.1 L1233.6,101.8 L1235.2,101.2 L1236.8,101.6 L1238.4,101.8 L1240.0,100.1 L1241.6,101.1 L1243.2,100.9 L1244.8,98.7 L1246.4,94.4 L1248.0,91.2 L1249.6,88.4 L1251.2,85.1 L1252.8,84.7 L1254.4,83.0 L1256.0,83.0 L1257.6,82.5 L1259.2,81.3 L1260.8,80.4 L1262.4,79.3 L1264.0,79.2 L1265.6,78.5 L1267.2,77.5 L1268.8,78.8 L1270.4,77.5 L1272.0,76.5 L1273.6,73.1 L1275.2,72.8 L1276.8,72.5 L1278.4,75.2 L1280.0,73.3 L1281.6,72.5 L1283.2,72.6 L1284.8,72.3 L1286.4,72.0 L1288.0,70.8 L1289.6,71.9 L1291.2,72.1 L1292.8,71.0 L1294.4,68.1 L1296.0,68.4 L1297.6,66.6 L1299.2,65.9 L1300.8,64.2 L1302.4,63.4 L1304.0,64.0 L1305.6,64.3 L1307.2,61.9 L1308.8,64.9 L1310.4,63.8 L1312.0,60.2 L1313.6,63.0 L1315.2,63.2 L1316.8,63.0 L1318.4,63.7 L1320.0,61.4 L1321.6,61.7 L1323.2,61.7 L1324.8,62.6 L1326.4,60.7 L1328.0,60.5 L1329.6,60.2 L1331.2,59.7 L1332.8,61.0 L1334.4,61.0 L1336.0,61.3 L1337.6,61.9 L1339.2,60.9 L1340.8,62.3 L1342.4,60.8 L1344.0,61.4 L1345.6,60.7 L1347.2,63.9 L1348.8,65.9 L1350.4,62.7 L1352.0,65.5 L1353.6,62.6 L1355.2,65.6 L1356.8,66.6 L1356.8,92.4 L1355.2,95.9 L1353.6,119.6 L1352.0,104.7 L1350.4,91.9 L1348.8,87.7 L1347.2,87.1 L1345.6,92.0 L1344.0,98.9 L1342.4,93.3 L1340.8,90.0 L1339.2,87.5 L1337.6,84.8 L1336.0,83.2 L1334.4,83.3 L1332.8,83.1 L1331.2,84.0 L1329.6,84.8 L1328.0,87.5 L1326.4,90.8 L1324.8,90.4 L1323.2,89.9 L1321.6,87.3 L1320.0,88.6 L1318.4,86.8 L1316.8,86.2 L1315.2,86.2 L1313.6,91.7 L1312.0,85.2 L1310.4,84.0 L1308.8,84.1 L1307.2,84.6 L1305.6,83.3 L1304.0,84.4 L1302.4,81.1 L1300.8,83.6 L1299.2,87.6 L1297.6,89.6 L1296.0,90.3 L1294.4,89.3 L1292.8,91.5 L1291.2,87.6 L1289.6,88.2 L1288.0,89.2 L1286.4,88.3 L1284.8,87.7 L1283.2,87.8 L1281.6,89.8 L1280.0,92.4 L1278.4,99.2 L1276.8,97.3 L1275.2,98.2 L1273.6,95.6 L1272.0,94.3 L1270.4,94.5 L1268.8,94.0 L1267.2,95.6 L1265.6,94.6 L1264.0,94.5 L1262.4,93.5 L1260.8,96.3 L1259.2,97.2 L1257.6,103.9 L1256.0,98.8 L1254.4,99.8 L1252.8,100.9 L1251.2,102.8 L1249.6,105.6 L1248.0,108.4 L1246.4,113.1 L1244.8,115.6 L1243.2,117.8 L1241.6,118.1 L1240.0,118.8 L1238.4,118.6 L1236.8,118.4 L1235.2,118.0 L1233.6,120.8 L1232.0,117.2 L1230.4,117.3 L1228.8,118.0 L1227.2,119.9 L1225.6,119.4 L1224.0,121.0 L1222.4,121.5 L1220.8,123.8 L1219.2,128.6 L1217.6,130.0 L1216.0,133.0 L1214.4,132.9 L1212.8,134.6 L1211.2,134.7 L1209.6,134.6 L1208.0,133.1 L1206.4,134.0 L1204.8,136.5 L1203.2,140.5 L1201.6,141.3 L1200.0,141.2 L1198.4,142.2 L1196.8,146.4 L1195.2,153.0 L1193.6,152.7 L1192.0,154.6 L1190.4,158.8 L1188.8,161.9 L1187.2,165.8 L1185.6,167.3 L1184.0,169.5 L1182.4,172.2 L1180.8,175.1 L1179.2,177.4 L1177.6,178.5 L1176.0,178.0 L1174.4,180.6 L1172.8,183.5 L1171.2,184.8 L1169.6,188.9 L1168.0,189.8 L1166.4,194.1 L1164.8,196.5 L1163.2,196.2 L1161.6,196.8 L1160.0,199.5 L1158.4,202.3 L1156.8,203.6 L1155.2,207.2 L1153.6,207.6 L1152.0,208.0 L1150.4,208.1 L1148.8,210.9 L1147.2,213.5 L1145.6,217.8 L1144.0,226.5 L1142.4,229.8 L1140.8,228.2 L1139.2,226.2 L1137.6,230.3 L1136.0,231.7 L1134.4,233.7 L1132.8,233.3 L1131.2,235.5 L1129.6,235.3 L1128.0,241.1 L1126.4,243.6 L1124.8,243.7 L1123.2,245.9 L1121.6,248.5 L1120.0,253.7 L1118.4,252.2 L1116.8,252.5 L1115.2,251.3 L1113.6,249.3 L1112.0,251.2 L1110.4,256.5 L1108.8,260.0 L1107.2,260.8 L1105.6,262.8 L1104.0,264.3 L1102.4,268.5 L1100.8,268.1 L1099.2,267.6 L1097.6,269.6 L1096.0,272.5 L1094.4,277.2 L1092.8,279.3 L1091.2,275.9 L1089.6,274.9 L1088.0,276.1 L1086.4,276.6 L1084.8,280.3 L1083.2,278.9 L1081.6,282.2 L1080.0,282.5 L1078.4,286.4 L1076.8,284.5 L1075.2,282.2 L1073.6,283.9 L1072.0,283.2 L1070.4,284.5 L1068.8,286.1 L1067.2,286.6 L1065.6,286.7 L1064.0,288.6 L1062.4,287.6 L1060.8,290.2 L1059.2,300.2 L1057.6,304.3 L1056.0,299.8 L1054.4,297.4 L1052.8,297.1 L1051.2,297.0 L1049.6,297.0 L1048.0,299.9 L1046.4,296.6 L1044.8,297.5 L1043.2,296.8 L1041.6,295.6 L1040.0,295.2 L1038.4,296.0 L1036.8,296.6 L1035.2,298.8 L1033.6,295.9 L1032.0,293.9 L1030.4,293.3 L1028.8,293.6 L1027.2,293.8 L1025.6,292.1 L1024.0,291.1 L1022.4,290.9 L1020.8,291.4 L1019.2,289.8 L1017.6,289.6 L1016.0,290.6 L1014.4,291.3 L1012.8,288.5 L1011.2,287.1 L1009.6,284.2 L1008.0,281.7 L1006.4,279.9 L1004.8,278.4 L1003.2,276.2 L1001.6,274.2 L1000.0,273.5 L998.4,272.9 L996.8,271.7 L995.2,272.0 L993.6,271.6 L992.0,276.6 L990.4,273.3 L988.8,270.5 L987.2,268.8 L985.6,265.5 L984.0,264.1 L982.4,263.2 L980.8,260.4 L979.2,258.2 L977.6,256.0 L976.0,257.1 L974.4,253.7 L972.8,254.3 L971.2,251.7 L969.6,249.7 L968.0,248.3 L966.4,247.4 L964.8,245.3 L963.2,244.8 L961.6,245.2 L960.0,242.8 L958.4,239.7 L956.8,237.8 L955.2,238.5 L953.6,239.8 L952.0,238.9 L950.4,238.6 L948.8,237.7 L947.2,237.4 L945.6,236.0 L944.0,232.1 L942.4,232.4 L940.8,224.1 L939.2,223.2 L937.6,228.2 L936.0,217.3 L934.4,217.0 L932.8,216.2 L931.2,214.2 L929.6,212.7 L928.0,211.5 L926.4,212.4 L924.8,210.1 L923.2,207.4 L921.6,202.9 L920.0,198.1 L918.4,197.5 L916.8,196.8 L915.2,194.4 L913.6,192.1 L912.0,191.7 L910.4,189.6 L908.8,188.3 L907.2,188.2 L905.6,185.9 L904.0,184.4 L902.4,184.3 L900.8,180.5 L899.2,178.8 L897.6,179.3 L896.0,178.4 L894.4,175.2 L892.8,174.8 L891.2,172.7 L889.6,171.9 L888.0,167.7 L886.4,165.6 L884.8,161.8 L883.2,160.9 L881.6,158.6 L880.0,157.7 L878.4,155.7 L876.8,153.1 L875.2,152.4 L873.6,150.7 L872.0,146.2 L870.4,139.4 L868.8,136.4 L867.2,135.6 L865.6,132.7 L864.0,132.5 L862.4,131.7 L860.8,133.7 L859.2,134.8 L857.6,135.1 L856.0,137.1 L854.4,139.3 L852.8,140.7 L851.2,135.2 L849.6,135.8 L848.0,133.7 L846.4,131.3 L844.8,133.8 L843.2,135.6 L841.6,132.5 L840.0,129.1 L838.4,126.1 L836.8,125.9 L835.2,122.9 L833.6,121.5 L832.0,130.9 L830.4,131.7 L828.8,126.5 L827.2,122.4 L825.6,123.5 L824.0,130.2 L822.4,123.9 L820.8,122.7 L819.2,120.1 L817.6,123.5 L816.0,112.3 L814.4,107.0 L812.8,112.5 L811.2,110.6 L809.6,102.5 L808.0,98.6 L806.4,102.6 L804.8,97.3 L803.2,94.5 L801.6,97.6 L800.0,96.3 L798.4,90.7 L796.8,89.7 L795.2,89.9 L793.6,88.8 L792.0,91.3 L790.4,92.6 L788.8,90.1 L787.2,84.4 L785.6,84.7 L784.0,89.1 L782.4,90.5 L780.8,93.3 L779.2,94.2 L777.6,93.5 L776.0,87.8 Z"/>
<path class="bl" d="M775.9,138.1 L825.3,169.5 L869.9,197.8 L919.4,237.0 L967.2,276.2 L1016.6,295.4 L1064.4,279.0 L1113.8,233.0 L1163.2,193.0 L1211.0,160.7 L1260.5,134.5 L1308.3,123.3 L1356.1,136.5"/>
<path class="pl" d="M776.0,82.4 L778.1,79.3 L780.1,84.5 L782.2,76.3 L785.3,74.2 L788.4,72.1 L790.4,77.3 L792.5,79.3 L794.6,80.4 L796.0,81.7 L797.8,79.9 L799.6,83.5 L801.0,87.1 L802.3,81.7 L804.1,86.2 L805.9,89.8 L807.3,93.0 L809.1,88.9 L810.9,93.4 L812.7,96.6 L814.1,98.8 L815.4,96.1 L816.8,101.6 L818.6,100.7 L820.4,102.5 L822.2,106.1 L823.6,95.2 L824.9,108.8 L826.7,109.7 L828.5,95.2 L829.6,103.1 L831.3,125.8 L833.8,105.1 L836.8,104.1 L838.9,109.3 L842.0,119.6 L845.1,113.4 L848.2,122.7 L851.3,121.6 L854.0,111.3 L856.4,121.6 L858.5,125.8 L860.6,126.8 L862.6,124.7 L864.7,128.9 L866.8,129.9 L868.8,127.8 L870.9,131.9 L872.9,144.3 L875.0,144.3 L878.1,143.3 L880.2,142.3 L882.2,141.2 L884.3,150.5 L887.4,154.6 L889.4,167.0 L891.5,158.8 L893.6,154.6 L896.7,165.0 L899.8,169.1 L902.9,172.0 L920.1,190.6 L922.2,194.7 L924.3,198.8 L926.3,200.9 L928.4,202.9 L930.4,206.0 L932.5,210.2 L934.6,201.9 L936.6,208.1 L938.7,210.2 L940.8,211.2 L942.8,221.5 L944.9,225.6 L946.9,222.5 L949.0,227.7 L951.1,230.8 L953.1,226.7 L955.2,224.6 L957.3,229.8 L959.3,235.9 L961.4,238.0 L963.4,240.1 L965.5,241.1 L967.6,242.1 L969.6,244.2 L971.7,247.3 L973.8,247.3 L975.8,250.4 L977.9,252.4 L979.9,249.4 L982.0,254.5 L984.1,258.6 L986.1,262.8 L988.2,268.9 L990.3,265.9 L992.3,262.8 L994.4,264.8 L996.4,267.9 L998.5,270.0 L1000.6,268.9 L1002.6,265.9 L1004.7,273.1 L1006.8,275.1 L1008.8,276.2 L1010.9,279.3 L1012.9,282.4 L1015.0,284.4 L1017.1,277.2 L1019.1,281.3 L1021.2,278.2 L1023.3,279.3 L1025.3,280.3 L1027.4,283.4 L1029.4,286.5 L1031.5,281.3 L1033.6,291.6 L1035.6,289.6 L1037.7,284.4 L1039.8,289.6 L1041.8,286.5 L1043.9,290.6 L1046.0,287.5 L1048.0,290.6 L1050.1,289.6 L1052.1,290.6 L1054.2,290.6 L1056.3,291.6 L1058.3,297.8 L1060.8,287.0 L1062.2,284.3 L1063.5,283.0 L1064.9,283.0 L1066.2,281.7 L1067.5,282.3 L1068.9,283.0 L1070.2,281.7 L1071.6,281.0 L1072.9,280.3 L1074.2,280.3 L1075.6,279.0 L1076.9,281.7 L1078.3,280.3 L1079.6,279.0 L1080.9,280.3 L1082.3,277.6 L1083.6,275.0 L1085.0,276.3 L1086.3,273.6 L1087.6,272.3 L1089.0,269.6 L1090.3,270.9 L1091.7,275.0 L1093.0,273.6 L1094.3,272.3 L1095.7,269.6 L1097.0,268.3 L1098.4,265.6 L1099.7,264.2 L1101.0,265.6 L1102.4,262.9 L1103.7,260.2 L1105.1,258.9 L1106.4,256.2 L1107.7,257.5 L1109.1,256.2 L1110.4,252.2 L1111.8,248.2 L1113.1,245.5 L1114.5,246.8 L1115.8,248.2 L1117.1,248.2 L1118.5,246.8 L1119.8,248.2 L1121.2,246.8 L1122.5,242.8 L1123.8,241.4 L1125.2,238.8 L1126.5,240.1 L1127.2,237.3 L1127.9,236.1 L1129.2,230.7 L1130.3,230.0 L1133.4,231.1 L1136.4,226.9 L1139.5,222.8 L1141.6,226.9 L1143.7,223.9 L1145.7,212.5 L1147.8,207.4 L1149.9,205.3 L1152.9,203.2 L1156.0,202.2 L1159.1,196.0 L1162.2,191.9 L1165.3,190.8 L1168.4,187.8 L1171.5,181.6 L1174.6,177.4 L1177.7,173.3 L1180.8,171.3 L1183.9,164.0 L1187.0,162.0 L1190.2,154.6 L1193.3,148.4 L1195.4,150.5 L1197.4,140.2 L1200.0,135.2 L1201.5,135.9 L1203.0,135.2 L1204.5,132.2 L1206.0,129.2 L1207.5,128.4 L1209.0,129.9 L1210.5,131.4 L1212.0,130.7 L1213.6,131.0 L1215.1,128.4 L1216.6,126.9 L1218.1,121.6 L1219.2,117.9 L1220.3,116.7 L1221.8,117.9 L1223.3,114.5 L1224.8,113.7 L1226.7,112.2 L1228.2,116.0 L1229.4,114.1 L1230.9,108.8 L1232.0,107.3 L1233.5,108.1 L1235.0,108.1 L1236.5,108.8 L1238.0,111.1 L1239.5,112.2 L1240.7,109.6 L1241.4,104.3 L1242.5,107.3 L1243.7,106.2 L1244.8,102.0 L1246.3,101.3 L1247.8,102.4 L1248.9,97.5 L1251.2,91.7 L1253.3,90.7 L1255.3,91.7 L1257.4,90.7 L1259.4,89.7 L1261.5,86.6 L1263.6,87.6 L1265.6,86.6 L1267.7,87.6 L1269.8,85.5 L1271.8,84.5 L1273.9,83.5 L1275.9,86.6 L1278.0,83.5 L1280.1,81.4 L1282.1,79.3 L1284.2,78.3 L1286.3,79.3 L1288.3,79.3 L1290.4,80.4 L1292.4,79.3 L1294.5,77.3 L1296.6,79.3 L1298.6,74.2 L1300.7,72.1 L1302.8,73.2 L1304.8,75.2 L1306.9,74.2 L1308.9,73.2 L1311.0,72.1 L1313.1,73.2 L1315.1,74.2 L1317.2,72.1 L1319.3,72.1 L1321.3,73.2 L1323.4,77.3 L1325.4,72.1 L1327.5,75.2 L1329.6,72.1 L1331.6,69.0 L1333.7,75.2 L1335.8,78.3 L1337.8,74.2 L1339.9,73.2 L1342.0,69.0 L1344.0,74.2 L1346.1,73.2 L1348.1,74.2 L1350.2,76.3 L1352.3,83.5 L1353.9,95.8 L1355.4,82.4 L1357.0,83.5"/>
</g>
<g clip-path="url(#cpC)">
<path class="gb" d="M67.0,489.3 L73.2,483.1 L79.4,479.0 L85.6,476.9 L91.8,483.1 L97.9,474.9 L104.1,476.9 L110.3,470.8 L116.5,481.1 L122.7,474.9 L128.9,464.6 L135.1,470.8 L141.3,468.7 L147.4,483.1 L153.6,476.9 L159.8,456.3 L166.0,454.3 L172.2,452.2 L176.3,446.0 L182.5,460.4 L188.7,456.3 L194.9,443.9 L199.0,433.6 L203.1,423.3 L207.3,433.6 L209.1,448.1 L213.2,441.9 L219.4,435.7 L223.5,423.3 L227.6,427.4 L231.8,421.3 L235.9,404.8 L240.0,392.4 L243.1,388.3 L246.2,400.6 L250.3,406.8 L254.4,402.7 L258.6,402.7 L262.7,410.9 L266.8,408.9 L270.9,394.4 L275.1,390.3 L279.2,392.4 L281.3,406.8 L285.4,417.1 L288.5,400.6 L291.6,408.9 L295.7,402.7 L299.8,406.8 L302.9,388.3 L305.0,380.0 L307.0,388.3 L309.1,410.9 L312.2,423.3 L316.3,419.2 L320.4,421.3 L324.6,417.1 L328.7,415.1 L332.8,423.3 L337.0,415.1 L341.1,413.0 L345.2,410.9 L347.0,421.3 L349.7,406.8 L352.2,398.6 L354.2,410.9 L357.3,427.4 L360.4,415.1 L363.5,423.3 L367.6,435.7 L373.8,433.6 L377.9,425.4 L382.1,441.9 L386.2,431.6 L390.3,433.6 L394.4,427.4 L400.6,437.8 L404.8,435.7 L408.9,433.6 L413.0,429.5 L417.1,427.4 L419.2,419.2 L423.3,433.6 L427.4,441.9 L431.6,441.9 L435.7,431.6 L439.8,443.9 L443.9,448.1 L448.1,452.2 L452.2,456.3 L458.4,458.4 L462.5,452.2 L467.7,439.8 L470.8,448.1 L474.9,458.4 L479.0,441.9 L483.1,450.1 L487.3,458.4 L489.1,454.3 L491.1,452.2 L495.3,450.1 L499.4,443.9 L502.5,441.9 L505.6,446.0 L509.7,450.1 L513.8,454.3 L517.9,446.0 L521.0,435.7 L524.1,446.0 L528.3,452.2 L531.3,448.1 L536.5,454.3 L540.6,474.9 L544.8,476.9 L548.9,472.8 L553.0,472.8 L557.1,479.0 L561.3,472.8 L565.4,462.5 L569.5,470.8 L571.6,456.3 L575.7,472.8 L579.8,476.9 L583.9,476.9 L588.1,481.1 L592.2,474.9 L596.3,479.0 L600.6,486.7 L604.6,485.2 L606.7,490.4 L608.7,487.3 L612.8,488.8 L617.0,491.4 L618.7,490.4 L621.1,491.4 L625.0,492.4 L630.8,487.3 L636.8,475.3 L642.8,478.3 L648.3,484.3 L648.3,502.3 L645.8,502.6 L642.8,503.9 L639.8,502.9 L636.8,504.0 L633.8,504.9 L630.1,508.0 L627.5,509.9 L625.0,508.9 L623.1,508.4 L621.4,506.9 L618.9,505.0 L617.0,504.0 L615.3,505.9 L612.8,507.5 L610.8,508.1 L609.2,508.6 L606.7,510.4 L603.8,507.4 L600.6,504.2 L598.4,503.2 L596.3,501.5 L594.3,500.5 L592.2,500.8 L590.1,501.4 L588.1,499.2 L586.0,497.5 L583.9,496.9 L581.9,497.5 L579.8,495.9 L577.8,495.5 L575.7,492.2 L573.6,491.0 L571.6,489.9 L569.5,490.2 L567.4,491.1 L565.4,495.6 L563.3,497.8 L561.3,498.9 L559.2,499.9 L557.1,500.1 L555.1,499.1 L553.0,496.9 L550.9,496.3 L548.9,496.2 L546.8,499.3 L544.8,500.5 L542.7,497.6 L540.6,489.6 L538.6,483.9 L536.5,476.6 L534.4,474.7 L532.4,475.5 L530.3,477.7 L528.3,478.7 L526.2,477.0 L523.7,476.2 L521.7,476.6 L520.0,476.8 L517.9,488.0 L515.9,489.6 L513.8,493.9 L511.8,491.9 L509.7,490.4 L507.6,487.5 L505.6,482.1 L503.5,480.7 L501.4,480.8 L499.4,481.7 L497.3,483.4 L495.3,486.9 L493.2,492.2 L491.1,493.8 L489.2,494.0 L487.3,493.4 L485.2,492.1 L483.1,487.9 L481.1,486.9 L479.0,486.3 L477.0,489.2 L474.9,490.0 L472.8,487.9 L470.8,485.2 L468.7,484.2 L466.6,480.6 L464.6,484.1 L462.5,490.8 L460.4,492.5 L458.4,490.5 L456.3,489.9 L454.3,486.4 L452.2,483.6 L450.1,481.4 L448.1,481.7 L446.0,481.7 L443.9,481.7 L441.9,476.2 L439.8,472.1 L437.8,471.1 L435.7,475.6 L433.6,479.0 L431.6,479.7 L429.5,480.3 L427.4,478.3 L425.4,471.5 L423.3,462.1 L421.3,460.9 L418.7,461.1 L416.1,463.5 L414.0,465.6 L412.0,469.8 L409.9,471.9 L407.8,474.5 L405.8,475.4 L403.7,476.6 L401.7,475.4 L399.6,472.4 L397.5,467.8 L395.5,466.2 L393.4,464.3 L391.3,463.2 L389.3,465.1 L387.2,470.3 L385.2,470.7 L383.1,468.4 L381.0,468.1 L379.0,471.9 L376.9,470.6 L374.8,472.0 L372.8,474.7 L370.7,475.2 L368.7,470.8 L366.6,467.1 L364.5,462.3 L362.5,461.0 L359.9,455.1 L357.3,450.5 L355.3,442.4 L353.2,440.3 L351.1,442.2 L349.2,444.1 L347.1,451.2 L345.2,451.4 L343.1,454.9 L341.1,452.9 L339.0,454.6 L337.0,457.8 L334.9,458.9 L332.8,458.4 L330.8,458.0 L328.7,456.6 L326.6,452.2 L324.6,458.5 L322.5,462.4 L320.4,465.5 L318.4,470.0 L316.3,472.5 L314.3,467.9 L312.2,460.5 L310.1,450.4 L308.1,434.5 L306.0,424.3 L303.9,423.7 L301.9,430.2 L299.8,439.3 L297.8,445.9 L295.7,446.3 L293.6,443.6 L291.6,437.3 L289.5,442.7 L287.4,446.1 L285.4,446.9 L283.3,446.1 L281.3,444.4 L279.2,439.1 L277.1,428.3 L275.1,424.6 L273.0,428.3 L270.9,435.4 L268.9,441.5 L266.8,445.5 L264.8,446.9 L262.7,447.5 L260.6,446.5 L258.6,444.6 L256.5,445.9 L254.4,447.3 L252.4,447.3 L250.3,445.9 L248.3,442.6 L246.2,437.5 L244.1,430.6 L242.1,427.1 L240.0,430.0 L237.9,436.4 L235.9,445.1 L233.8,452.1 L231.8,457.0 L229.7,459.7 L227.6,462.4 L225.6,464.4 L223.5,466.1 L221.4,467.7 L219.4,469.8 L217.3,474.5 L215.3,478.3 L213.2,481.6 L211.1,482.0 L208.7,479.5 L206.2,473.2 L204.2,466.3 L202.1,464.6 L200.0,467.2 L198.0,473.3 L195.9,478.9 L193.9,485.1 L191.8,490.8 L189.7,498.3 L187.7,504.0 L185.6,507.7 L183.5,507.7 L181.5,503.6 L179.4,498.3 L177.4,494.8 L175.3,492.7 L173.2,493.1 L171.2,493.5 L169.1,493.3 L167.0,494.8 L165.0,495.1 L162.9,492.9 L160.9,496.7 L158.8,501.3 L156.7,503.2 L154.7,508.8 L152.6,514.3 L150.5,516.8 L148.5,517.6 L146.4,516.0 L144.4,511.4 L142.3,506.7 L140.2,502.6 L138.2,501.7 L136.1,503.3 L134.0,502.0 L132.0,496.3 L129.9,492.7 L127.8,490.9 L125.8,490.4 L123.7,492.8 L121.7,498.7 L119.6,507.1 L117.5,511.0 L115.5,511.0 L113.4,508.6 L111.3,504.7 L109.3,501.9 L107.2,503.9 L105.2,506.0 L103.1,509.8 L101.0,517.2 L99.0,520.9 L96.9,521.8 L94.8,523.4 L92.8,524.3 L90.7,522.0 L88.7,518.9 L86.6,513.9 L84.5,512.2 L82.5,511.4 L79.4,511.9 L76.3,516.4 L73.2,521.0 L70.1,525.5 L67.0,527.6 Z"/>
<path class="pb" d="M67.0,491.4 L71.1,495.5 L74.2,468.7 L76.3,441.9 L78.3,466.6 L81.4,483.1 L85.6,487.3 L89.7,487.3 L92.8,470.8 L94.8,483.1 L97.9,487.3 L101.0,474.9 L104.1,495.5 L108.3,462.5 L111.3,472.8 L114.4,487.3 L118.6,474.9 L122.7,427.4 L124.8,406.8 L127.8,433.6 L130.9,458.4 L135.1,470.8 L138.2,468.7 L141.3,476.9 L145.4,483.1 L149.5,487.3 L153.6,479.0 L157.8,476.9 L161.9,472.8 L166.0,483.1 L170.1,466.6 L173.2,450.1 L176.3,458.4 L180.4,446.0 L182.5,462.5 L186.6,474.9 L190.8,487.3 L194.9,474.9 L199.0,462.5 L203.1,433.6 L207.3,441.9 L211.1,458.4 L214.2,421.3 L216.3,394.4 L218.3,431.6 L221.4,454.3 L225.6,458.4 L229.7,466.6 L235.9,448.1 L240.0,437.8 L242.1,441.9 L246.2,466.6 L248.3,466.6 L252.4,450.1 L256.5,458.4 L260.6,470.8 L264.8,458.4 L268.9,458.4 L273.0,437.8 L277.1,433.6 L281.3,413.0 L283.3,421.3 L285.4,431.6 L289.5,452.2 L293.6,446.0 L297.8,458.4 L301.9,466.6 L306.0,462.5 L310.1,454.3 L314.3,429.5 L316.3,413.0 L318.4,433.6 L322.5,446.0 L325.6,406.8 L328.7,421.3 L330.8,458.4 L334.9,458.4 L339.0,450.1 L343.1,441.9 L347.1,452.2 L349.1,448.1 L351.1,441.9 L355.3,462.5 L359.4,468.7 L363.5,479.0 L367.6,474.9 L371.8,491.4 L375.9,466.6 L380.0,489.3 L384.1,483.1 L388.3,495.5 L392.4,503.8 L396.5,487.3 L399.6,441.9 L402.7,470.8 L406.8,474.9 L410.9,458.4 L413.0,483.1 L417.1,479.0 L421.3,487.3 L425.4,474.9 L429.5,441.9 L433.6,466.6 L437.8,472.8 L441.9,487.3 L446.0,491.4 L450.1,491.4 L454.3,495.5 L458.4,485.2 L462.5,483.1 L466.6,476.9 L470.8,446.0 L474.9,479.0 L479.0,491.4 L483.1,483.1 L487.3,476.9 L489.1,462.5 L491.1,458.4 L495.3,474.9 L499.4,466.6 L503.5,462.5 L505.6,417.1 L507.6,441.9 L509.7,468.7 L513.8,462.5 L517.9,483.1 L522.1,476.9 L526.2,479.0 L530.3,479.0 L534.4,485.2 L538.6,495.5 L542.7,499.6 L548.9,495.5 L555.1,501.7 L561.3,495.5 L565.4,446.0 L569.5,452.2 L573.6,479.0 L577.9,470.0 L581.5,474.0 L585.8,482.8 L590.1,493.9 L594.3,503.8 L596.1,502.4 L598.4,507.9 L602.3,503.1 L606.7,503.1 L610.2,451.9 L614.6,459.3 L618.9,489.8 L623.2,492.9 L627.5,462.9 L633.8,478.3 L638.3,472.3 L642.8,457.2 L645.8,433.1 L648.3,448.2 L648.3,565.7 L644.3,544.6 L639.8,523.5 L635.3,532.5 L630.8,559.6 L627.3,553.6 L624.8,554.2 L622.1,561.9 L618.9,555.7 L615.9,551.6 L612.8,553.2 L609.7,576.3 L608.2,568.7 L606.6,570.1 L603.8,584.2 L601.1,573.4 L598.4,570.1 L596.2,560.1 L593.2,561.9 L590.9,563.2 L588.1,566.0 L586.6,554.0 L583.3,525.7 L580.9,541.3 L577.9,531.8 L574.1,544.4 L571.6,572.2 L568.5,561.9 L565.4,563.9 L562.3,570.1 L559.2,576.3 L556.1,561.9 L552.6,568.1 L549.9,545.4 L546.8,551.6 L543.7,568.1 L541.0,541.3 L538.6,561.9 L536.1,592.8 L533.4,551.6 L530.3,563.9 L528.3,551.6 L526.2,561.9 L523.1,553.6 L520.4,578.4 L517.9,557.8 L515.9,570.1 L513.8,561.9 L510.7,561.9 L507.6,551.6 L505.6,547.4 L503.5,553.6 L501.4,566.0 L499.4,559.8 L496.3,557.8 L493.2,551.6 L489.7,563.4 L485.2,567.0 L483.1,563.9 L480.0,557.8 L477.0,547.4 L473.9,524.8 L470.8,530.9 L467.7,539.2 L464.6,563.9 L461.5,578.4 L458.4,568.1 L455.3,576.3 L452.2,559.8 L449.1,566.0 L446.0,559.8 L442.9,561.9 L439.8,574.3 L436.7,549.5 L433.6,561.9 L431.2,594.9 L428.5,578.4 L425.4,561.9 L422.3,551.6 L419.2,574.3 L416.1,559.8 L413.0,570.1 L409.9,551.6 L406.8,561.9 L403.7,541.3 L400.6,570.1 L396.5,555.7 L392.4,577.4 L388.3,557.8 L385.2,545.4 L382.1,551.6 L379.0,582.5 L375.9,553.6 L372.8,572.2 L370.7,541.3 L367.6,545.4 L364.5,570.1 L362.5,541.3 L359.4,516.5 L355.3,530.9 L351.1,520.6 L349.3,530.9 L346.2,541.3 L343.1,555.7 L341.1,541.3 L339.0,533.0 L335.9,541.3 L332.8,559.8 L329.7,561.9 L326.6,553.6 L323.5,559.8 L320.4,568.1 L317.4,541.3 L314.3,535.1 L311.2,547.4 L309.1,530.9 L306.0,533.0 L303.9,551.6 L301.9,576.3 L298.8,561.9 L295.7,541.3 L292.6,512.4 L289.5,533.0 L287.4,524.8 L284.4,508.3 L281.3,526.8 L278.2,520.6 L275.1,547.4 L273.0,568.1 L269.9,551.6 L267.8,541.3 L265.8,561.9 L263.7,582.5 L261.7,592.8 L259.6,572.2 L256.5,524.8 L253.4,530.9 L250.3,561.9 L248.3,588.7 L245.2,524.8 L242.1,504.1 L240.0,512.4 L236.9,510.3 L233.8,518.6 L229.7,504.1 L226.6,516.5 L224.5,526.8 L221.4,508.3 L219.4,537.1 L217.3,549.5 L215.3,508.3 L213.2,504.1 L211.1,524.8 L208.7,551.6 L205.2,549.5 L202.1,568.1 L199.0,566.0 L194.9,561.9 L191.8,572.2 L188.7,582.5 L185.6,584.6 L182.5,580.4 L179.4,568.1 L176.3,553.6 L173.2,549.5 L171.2,576.3 L169.1,607.3 L166.0,578.4 L162.9,572.2 L159.8,561.9 L156.7,584.6 L153.6,574.3 L151.6,561.9 L148.5,578.4 L145.4,613.4 L142.3,586.6 L139.2,568.1 L136.1,570.1 L133.0,582.5 L130.9,541.3 L127.8,502.1 L123.7,502.1 L120.6,510.3 L118.6,551.6 L115.5,582.5 L113.4,563.9 L110.3,553.6 L107.2,572.2 L104.1,561.9 L100.0,551.6 L96.9,572.2 L93.8,590.8 L90.7,572.2 L87.6,588.7 L83.5,551.6 L79.4,530.9 L75.3,541.3 L71.1,547.4 L67.0,563.9 Z"/>
<path class="bl" d="M67.0,512.0 C67.5,511.3 69.1,509.3 70.1,507.9 C71.1,506.5 72.2,504.8 73.2,503.8 C74.2,502.7 75.3,502.7 76.3,501.7 C77.3,500.7 78.3,499.1 79.4,497.6 C80.4,496.0 81.6,492.2 82.5,492.4 C83.3,492.6 83.8,497.2 84.5,498.6 C85.2,500.0 85.9,500.5 86.6,500.7 C87.3,500.8 88.0,499.5 88.7,499.6 C89.3,499.8 90.0,500.7 90.7,501.7 C91.4,502.7 92.1,503.8 92.8,505.8 C93.5,507.9 94.2,513.0 94.8,514.1 C95.5,515.1 96.2,515.1 96.9,512.0 C97.6,508.9 98.3,498.6 99.0,495.5 C99.7,492.4 100.3,492.4 101.0,493.4 C101.7,494.5 102.4,501.4 103.1,501.7 C103.8,502.0 104.5,498.3 105.2,495.5 C105.8,492.8 106.5,487.1 107.2,485.2 C107.9,483.3 108.6,483.5 109.3,484.2 C110.0,484.9 110.7,487.1 111.3,489.3 C112.0,491.6 112.7,495.2 113.4,497.6 C114.1,500.0 114.8,504.1 115.5,503.8 C116.2,503.4 116.8,497.7 117.5,495.5 C118.2,493.3 118.9,491.6 119.6,490.4 C120.3,489.2 121.0,489.2 121.7,488.3 C122.3,487.4 123.0,486.7 123.7,485.2 C124.4,483.7 125.1,480.4 125.8,479.0 C126.5,477.6 127.2,476.6 127.8,476.9 C128.5,477.3 129.2,479.4 129.9,481.1 C130.6,482.8 131.3,486.1 132.0,487.3 C132.7,488.5 133.4,488.3 134.0,488.3 C134.7,488.3 135.4,486.7 136.1,487.3 C136.8,487.8 137.5,491.6 138.2,491.4 C138.9,491.2 139.5,486.9 140.2,486.2 C140.9,485.5 141.6,485.7 142.3,487.3 C143.0,488.8 143.7,493.1 144.4,495.5 C145.0,497.9 145.7,500.0 146.4,501.7 C147.1,503.4 147.8,505.8 148.5,505.8 C149.2,505.8 149.9,503.4 150.5,501.7 C151.2,500.0 151.9,497.2 152.6,495.5 C153.3,493.8 154.0,492.4 154.7,491.4 C155.4,490.4 156.0,491.0 156.7,489.3 C157.4,487.6 158.1,482.8 158.8,481.1 C159.5,479.4 160.2,478.7 160.9,479.0 C161.5,479.4 162.2,484.3 162.9,483.1 C163.6,481.9 164.3,473.5 165.0,471.8 C165.7,470.1 166.4,471.3 167.0,472.8 C167.7,474.4 168.4,480.4 169.1,481.1 C169.8,481.8 170.5,477.8 171.2,476.9 C171.9,476.1 172.5,476.6 173.2,475.9 C173.9,475.2 174.6,473.7 175.3,472.8 C176.0,472.0 176.7,469.7 177.4,470.8 C178.0,471.8 178.7,476.3 179.4,479.0 C180.1,481.8 180.8,484.9 181.5,487.3 C182.2,489.7 182.9,491.4 183.5,493.4 C184.2,495.5 184.9,500.0 185.6,499.6 C186.3,499.3 187.0,494.8 187.7,491.4 C188.4,487.9 189.0,482.8 189.7,479.0 C190.4,475.2 191.1,471.1 191.8,468.7 C192.5,466.3 193.2,465.6 193.9,464.6 C194.5,463.5 195.2,462.9 195.9,462.5 C196.6,462.2 197.3,464.9 198.0,462.5 C198.7,460.1 199.4,451.2 200.0,448.1 C200.7,445.0 201.4,444.3 202.1,443.9 C202.8,443.6 203.5,443.6 204.2,446.0 C204.9,448.4 205.5,454.6 206.2,458.4 C207.0,462.2 207.9,467.3 208.7,468.7 C209.5,470.1 210.4,466.5 211.1,466.6 C211.9,466.8 212.5,471.1 213.2,469.7 C213.9,468.4 214.6,460.6 215.3,458.4 C215.9,456.1 216.6,457.4 217.3,456.3 C218.0,455.3 218.7,453.6 219.4,452.2 C220.1,450.8 220.8,448.4 221.4,448.1 C222.1,447.7 222.8,450.3 223.5,450.1 C224.2,450.0 224.9,447.7 225.6,447.0 C226.3,446.4 226.9,446.7 227.6,446.0 C228.3,445.3 229.0,444.3 229.7,442.9 C230.4,441.5 231.1,438.8 231.8,437.8 C232.4,436.7 233.1,437.4 233.8,436.7 C234.5,436.0 235.2,436.2 235.9,433.6 C236.6,431.1 237.3,425.0 237.9,421.3 C238.6,417.5 239.3,413.2 240.0,410.9 C240.7,408.7 241.4,407.5 242.1,407.8 C242.8,408.2 243.4,410.8 244.1,413.0 C244.8,415.2 245.5,418.7 246.2,421.3 C246.9,423.8 247.6,427.1 248.3,428.5 C248.9,429.8 249.6,428.8 250.3,429.5 C251.0,430.2 251.7,432.6 252.4,432.6 C253.1,432.6 253.8,430.2 254.4,429.5 C255.1,428.8 255.8,428.6 256.5,428.5 C257.2,428.3 257.9,429.5 258.6,428.5 C259.3,427.4 259.9,422.1 260.6,422.3 C261.3,422.5 262.0,427.3 262.7,429.5 C263.4,431.7 264.1,435.0 264.8,435.7 C265.4,436.4 266.1,435.3 266.8,433.6 C267.5,431.9 268.2,428.5 268.9,425.4 C269.6,422.3 270.3,417.6 270.9,415.1 C271.6,412.5 272.3,410.3 273.0,409.9 C273.7,409.6 274.4,412.5 275.1,413.0 C275.8,413.5 276.4,412.8 277.1,413.0 C277.8,413.2 278.5,411.6 279.2,414.0 C279.9,416.4 280.6,422.8 281.3,427.4 C281.9,432.1 282.6,440.2 283.3,441.9 C284.0,443.6 284.7,441.2 285.4,437.8 C286.1,434.3 286.8,424.5 287.4,421.3 C288.1,418.0 288.8,417.8 289.5,418.2 C290.2,418.5 290.9,421.3 291.6,423.3 C292.3,425.4 292.9,430.0 293.6,430.5 C294.3,431.1 295.0,426.2 295.7,426.4 C296.4,426.6 297.1,430.7 297.8,431.6 C298.4,432.4 299.1,433.3 299.8,431.6 C300.5,429.8 301.2,426.9 301.9,421.3 C302.6,415.6 303.3,401.0 303.9,397.5 C304.6,394.1 305.3,397.7 306.0,400.6 C306.7,403.5 307.4,409.2 308.1,415.1 C308.8,420.9 309.4,429.5 310.1,435.7 C310.8,441.9 311.5,448.1 312.2,452.2 C312.9,456.3 313.6,460.6 314.3,460.4 C314.9,460.3 315.6,452.5 316.3,451.2 C317.0,449.8 317.7,451.0 318.4,452.2 C319.1,453.4 319.8,460.4 320.4,458.4 C321.1,456.3 321.8,443.3 322.5,439.8 C323.2,436.4 323.9,438.4 324.6,437.8 C325.3,437.1 325.9,436.4 326.6,435.7 C327.3,435.0 328.0,432.9 328.7,433.6 C329.4,434.3 330.1,436.9 330.8,439.8 C331.4,442.7 332.1,450.8 332.8,451.2 C333.5,451.5 334.2,444.1 334.9,441.9 C335.6,439.6 336.3,438.8 337.0,437.8 C337.6,436.7 338.3,436.2 339.0,435.7 C339.7,435.2 340.4,434.7 341.1,434.7 C341.8,434.7 342.5,435.3 343.1,435.7 C343.8,436.0 344.5,435.3 345.2,436.7 C345.9,438.1 346.5,444.6 347.1,443.9 C347.8,443.3 348.5,436.7 349.2,432.6 C349.9,428.5 350.5,421.8 351.1,419.2 C351.8,416.6 352.5,416.1 353.2,417.1 C353.9,418.2 354.6,420.2 355.3,425.4 C355.9,430.5 356.5,445.7 357.3,448.1 C358.1,450.4 359.0,440.5 359.9,439.3 C360.8,438.1 361.7,440.9 362.5,440.8 C363.2,440.8 363.8,437.2 364.5,438.8 C365.2,440.3 365.9,447.2 366.6,450.1 C367.3,453.1 368.0,454.4 368.7,456.3 C369.3,458.2 370.0,461.0 370.7,461.5 C371.4,462.0 372.1,459.6 372.8,459.4 C373.5,459.2 374.2,462.3 374.8,460.4 C375.5,458.6 376.2,450.5 376.9,448.1 C377.6,445.7 378.3,444.6 379.0,446.0 C379.7,447.4 380.3,453.6 381.0,456.3 C381.7,459.1 382.4,463.5 383.1,462.5 C383.8,461.5 384.5,452.5 385.2,450.1 C385.8,447.7 386.5,447.9 387.2,448.1 C387.9,448.2 388.6,450.0 389.3,451.2 C390.0,452.4 390.7,455.5 391.3,455.3 C392.0,455.1 392.7,451.9 393.4,450.1 C394.1,448.4 394.8,445.0 395.5,445.0 C396.2,445.0 396.8,448.2 397.5,450.1 C398.2,452.0 398.9,454.6 399.6,456.3 C400.3,458.0 401.0,459.2 401.7,460.4 C402.3,461.6 403.0,463.9 403.7,463.5 C404.4,463.2 405.1,459.6 405.8,458.4 C406.5,457.2 407.2,457.7 407.8,456.3 C408.5,454.9 409.2,450.1 409.9,450.1 C410.6,450.1 411.3,456.3 412.0,456.3 C412.7,456.3 413.4,451.5 414.0,450.1 C414.7,448.8 415.3,449.4 416.1,448.1 C416.9,446.7 417.8,442.6 418.7,441.9 C419.5,441.2 420.5,442.2 421.3,443.9 C422.0,445.7 422.6,450.6 423.3,452.2 C424.0,453.7 424.7,452.9 425.4,453.2 C426.1,453.6 426.8,451.7 427.4,454.3 C428.1,456.8 428.8,465.3 429.5,468.7 C430.2,472.1 430.9,475.9 431.6,474.9 C432.3,473.9 432.9,466.6 433.6,462.5 C434.3,458.4 435.0,451.9 435.7,450.1 C436.4,448.4 437.1,450.1 437.8,452.2 C438.4,454.3 439.1,460.4 439.8,462.5 C440.5,464.6 441.2,463.7 441.9,464.6 C442.6,465.4 443.3,467.7 443.9,467.7 C444.6,467.7 445.3,464.1 446.0,464.6 C446.7,465.1 447.4,470.4 448.1,470.8 C448.8,471.1 449.4,467.0 450.1,466.6 C450.8,466.3 451.5,468.0 452.2,468.7 C452.9,469.4 453.6,469.7 454.3,470.8 C454.9,471.8 455.6,473.9 456.3,474.9 C457.0,475.9 457.7,476.9 458.4,476.9 C459.1,476.9 459.8,476.3 460.4,474.9 C461.1,473.5 461.8,468.0 462.5,468.7 C463.2,469.4 463.9,479.4 464.6,479.0 C465.3,478.7 465.9,470.4 466.6,466.6 C467.3,462.9 468.0,456.3 468.7,456.3 C469.4,456.3 470.1,463.2 470.8,466.6 C471.4,470.1 472.1,475.2 472.8,476.9 C473.5,478.7 474.2,477.3 474.9,476.9 C475.6,476.6 476.3,476.6 477.0,474.9 C477.6,473.2 478.3,468.7 479.0,466.6 C479.7,464.6 480.4,461.5 481.1,462.5 C481.8,463.5 482.5,469.9 483.1,472.8 C483.8,475.7 484.5,479.0 485.2,480.0 C485.9,481.1 486.6,479.1 487.3,479.0 C487.9,478.9 488.6,480.6 489.2,479.5 C489.8,478.5 490.5,474.3 491.1,472.8 C491.8,471.4 492.5,470.4 493.2,470.8 C493.9,471.1 494.6,474.9 495.3,474.9 C495.9,474.9 496.6,472.6 497.3,470.8 C498.0,468.9 498.7,465.4 499.4,463.5 C500.1,461.6 500.8,459.6 501.4,459.4 C502.1,459.2 502.8,460.4 503.5,462.5 C504.2,464.6 504.9,470.4 505.6,471.8 C506.3,473.2 506.9,471.3 507.6,470.8 C508.3,470.2 509.0,467.8 509.7,468.7 C510.4,469.6 511.1,474.5 511.8,475.9 C512.4,477.3 513.1,476.4 513.8,476.9 C514.5,477.5 515.2,478.3 515.9,479.0 C516.6,479.7 517.3,483.8 517.9,481.1 C518.6,478.3 519.4,466.6 520.0,462.5 C520.6,458.4 521.0,455.6 521.7,456.3 C522.3,457.0 523.0,464.7 523.7,466.6 C524.5,468.5 525.4,465.9 526.2,467.7 C526.9,469.4 527.6,475.1 528.3,476.9 C528.9,478.8 529.6,481.1 530.3,479.0 C531.0,476.9 531.7,466.5 532.4,464.6 C533.1,462.7 533.8,467.7 534.4,467.7 C535.1,467.7 535.8,463.0 536.5,464.6 C537.2,466.1 537.9,472.8 538.6,476.9 C539.3,481.1 539.9,486.4 540.6,489.3 C541.3,492.2 542.0,494.1 542.7,494.5 C543.4,494.8 544.1,490.9 544.8,491.4 C545.4,491.9 546.1,497.6 546.8,497.6 C547.5,497.6 548.2,493.1 548.9,491.4 C549.6,489.7 550.3,488.1 550.9,487.3 C551.6,486.4 552.3,485.5 553.0,486.2 C553.7,486.9 554.4,489.2 555.1,491.4 C555.8,493.6 556.4,498.6 557.1,499.6 C557.8,500.7 558.5,499.3 559.2,497.6 C559.9,495.9 560.6,491.4 561.3,489.3 C561.9,487.3 562.6,485.5 563.3,485.2 C564.0,484.9 564.7,485.9 565.4,487.3 C566.1,488.6 566.8,493.4 567.4,493.4 C568.1,493.4 568.8,490.9 569.5,487.3 C570.2,483.7 570.9,472.8 571.6,471.8 C572.3,470.8 572.9,478.5 573.6,481.1 C574.3,483.7 575.0,484.2 575.7,487.3 C576.4,490.4 577.1,498.6 577.8,499.6 C578.4,500.7 579.1,495.9 579.8,493.4 C580.5,491.0 581.2,486.7 581.9,485.2 C582.6,483.7 583.3,482.4 583.9,484.2 C584.6,485.9 585.3,492.9 586.0,495.5 C586.7,498.1 587.4,499.5 588.1,499.6 C588.8,499.8 589.4,497.7 590.1,496.5 C590.8,495.3 591.5,492.9 592.2,492.4 C592.9,491.9 593.6,493.1 594.3,493.4 C594.9,493.8 595.6,493.4 596.3,494.5 C597.0,495.5 597.7,498.5 598.4,499.6 C599.1,500.8 599.6,501.5 600.6,501.5 C601.5,501.6 602.8,500.2 603.8,500.1 C604.9,500.0 605.8,499.9 606.7,501.0 C607.6,502.1 608.5,505.4 609.2,506.9 C609.9,508.3 610.2,511.3 610.8,510.0 C611.4,508.6 612.0,501.0 612.8,499.0 C613.5,497.1 614.6,498.4 615.3,498.5 C616.0,498.6 616.4,499.1 617.0,499.6 C617.5,500.2 618.1,501.2 618.9,501.8 C619.6,502.4 620.7,502.8 621.4,503.1 C622.1,503.4 622.5,503.5 623.1,503.8 C623.7,504.1 624.3,504.6 625.0,504.9 C625.7,505.1 626.7,505.5 627.5,505.3 C628.4,505.1 629.0,505.1 630.1,503.6 C631.1,502.1 632.7,497.3 633.8,496.4 C634.9,495.4 635.8,497.4 636.8,497.9 C637.8,498.4 638.8,500.2 639.8,499.4 C640.8,498.6 641.8,494.6 642.8,493.4 C643.8,492.1 644.9,489.9 645.8,491.9 C646.7,493.9 647.9,503.2 648.3,505.4"/>
<path class="pl" d="M67.0,526.8 L69.1,522.7 L73.2,505.8 L76.3,487.3 L78.3,489.3 L80.4,499.6 L82.5,507.9 L84.5,541.3 L86.6,543.3 L88.7,547.4 L90.7,535.1 L92.8,522.7 L94.8,537.1 L96.9,543.3 L99.0,537.1 L101.0,528.9 L103.1,541.3 L105.2,533.0 L107.2,526.8 L109.3,512.4 L111.3,504.1 L113.4,520.6 L115.5,541.3 L117.5,524.8 L119.6,512.4 L121.7,479.0 L123.7,460.4 L125.8,457.4 L127.8,460.4 L129.9,472.8 L132.0,520.6 L133.0,541.3 L135.1,524.8 L138.2,523.7 L140.2,526.8 L142.3,541.3 L144.4,559.8 L146.4,559.8 L148.5,537.1 L150.5,524.8 L152.6,518.6 L154.7,515.5 L156.7,539.2 L158.8,530.9 L160.9,522.7 L162.9,512.4 L165.0,510.3 L167.0,541.3 L169.1,561.9 L171.2,520.6 L173.2,504.1 L175.3,503.1 L177.4,506.2 L179.4,510.3 L181.5,516.5 L183.5,549.5 L185.6,549.5 L187.7,555.7 L189.7,551.6 L191.8,541.3 L193.9,530.9 L195.9,526.8 L198.0,518.6 L200.0,520.6 L202.1,517.5 L204.2,487.3 L207.3,495.5 L209.2,503.9 L211.1,483.1 L213.2,468.7 L215.3,456.3 L217.3,468.7 L219.4,485.2 L221.4,486.2 L222.5,476.9 L224.5,510.3 L226.6,485.2 L228.7,476.9 L230.7,472.8 L232.8,479.0 L234.8,489.3 L236.9,481.1 L239.0,474.9 L241.0,475.9 L242.1,470.8 L244.1,476.9 L246.2,495.5 L248.3,520.6 L250.3,527.8 L252.4,508.1 L254.4,472.8 L256.5,476.9 L258.6,495.5 L259.6,537.1 L261.7,548.5 L263.7,541.3 L266.8,497.6 L268.9,512.4 L270.9,530.9 L273.0,533.0 L275.1,483.1 L277.1,481.1 L279.2,472.8 L281.3,467.7 L283.3,462.5 L285.0,456.3 L286.4,461.5 L288.5,479.0 L290.5,492.4 L292.6,474.9 L294.7,487.3 L296.7,495.5 L299.8,516.5 L301.9,533.0 L303.9,530.9 L306.0,512.4 L308.1,485.2 L310.1,487.3 L312.2,499.6 L314.3,497.6 L316.3,479.0 L318.4,476.9 L319.4,508.3 L320.4,495.5 L321.5,522.7 L323.5,512.4 L324.6,489.3 L326.6,481.1 L328.7,495.5 L332.8,524.8 L334.9,536.1 L337.0,512.4 L339.0,497.6 L341.1,495.5 L343.1,516.5 L345.2,518.6 L347.3,512.4 L348.7,469.7 L350.7,458.4 L352.2,457.4 L354.2,476.9 L356.3,495.5 L358.3,489.3 L360.4,491.4 L362.5,513.2 L364.5,530.9 L366.6,532.0 L368.7,510.3 L370.1,509.3 L371.8,530.9 L373.4,537.1 L375.2,501.9 L376.9,495.5 L379.0,520.6 L380.4,538.2 L382.1,516.5 L383.7,515.5 L385.4,508.3 L387.2,519.6 L389.3,522.7 L391.3,555.7 L393.4,551.6 L395.5,545.4 L397.5,535.1 L399.6,502.1 L400.6,499.6 L401.7,516.5 L403.7,517.5 L405.8,522.7 L407.8,508.3 L408.9,505.8 L409.9,518.6 L411.4,514.4 L413.0,502.9 L415.1,539.2 L417.1,537.1 L419.2,538.2 L421.7,558.8 L423.7,537.1 L425.8,512.4 L427.4,495.5 L429.5,510.1 L431.6,548.5 L433.4,514.3 L435.7,491.4 L437.6,508.1 L439.4,548.5 L441.5,535.1 L443.5,541.3 L445.6,534.0 L447.7,539.2 L449.7,541.3 L451.2,529.9 L453.2,528.9 L455.3,543.3 L457.4,541.3 L459.4,545.4 L461.5,537.1 L463.5,520.6 L465.6,525.8 L467.7,524.8 L468.7,483.1 L470.8,481.1 L472.8,485.2 L473.9,506.2 L474.9,503.8 L475.9,510.3 L479.0,547.4 L481.1,520.6 L483.1,524.8 L484.2,540.2 L486.2,530.9 L488.5,512.4 L490.5,525.8 L492.8,509.3 L494.4,508.3 L496.3,539.2 L497.3,545.4 L499.4,541.3 L501.4,538.2 L503.1,537.1 L504.5,520.6 L505.6,468.7 L507.6,498.8 L509.7,514.4 L511.8,520.6 L513.8,518.6 L515.5,510.3 L517.5,520.6 L519.0,526.8 L520.4,537.1 L521.7,559.8 L523.7,539.2 L525.8,514.4 L527.2,512.4 L529.3,524.8 L530.7,526.8 L532.8,508.3 L534.9,526.8 L536.9,539.2 L539.0,535.1 L541.0,516.5 L542.7,537.1 L544.8,554.7 L546.8,537.1 L548.5,512.4 L549.9,518.6 L551.4,524.8 L553.0,523.7 L555.1,530.9 L557.1,549.5 L559.2,550.5 L561.7,558.8 L563.3,535.1 L565.4,508.3 L567.4,509.3 L569.5,504.1 L571.6,518.6 L573.6,541.3 L575.7,520.6 L577.8,510.3 L579.8,504.1 L581.9,502.1 L585.8,513.4 L588.3,543.9 L589.9,539.0 L591.4,521.3 L592.9,536.3 L594.4,529.0 L596.0,526.1 L597.5,548.9 L598.8,556.7 L600.8,551.8 L602.5,554.7 L603.9,555.4 L606.5,531.7 L608.3,518.6 L610.0,512.9 L612.8,506.3 L614.9,503.1 L615.7,514.5 L617.0,514.4 L618.9,528.6 L621.4,539.3 L623.1,542.3 L625.0,529.2 L627.5,512.5 L630.8,532.5 L633.8,514.5 L636.8,511.4 L639.8,499.4 L642.8,487.3 L645.8,493.4 L648.3,526.5"/>
</g>
<g clip-path="url(#cpD)">
<path class="gb" d="M775.9,512.4 L825.3,476.4 L869.9,489.2 L919.4,514.5 L967.2,537.0 L1016.6,557.6 L1064.4,582.8 L1113.8,602.4 L1163.2,608.0 L1211.0,606.9 L1260.5,593.0 L1308.3,564.6 L1356.1,513.0 L1356.1,548.0 L1308.3,580.6 L1260.5,605.0 L1211.0,619.9 L1163.2,623.0 L1113.8,618.4 L1064.4,598.8 L1016.6,573.6 L967.2,553.0 L919.4,530.5 L869.9,514.2 L825.3,504.4 L775.9,541.2 Z"/>
<path class="pb" d="M776.0,437.8 L780.1,441.9 L782.2,427.4 L784.3,437.8 L788.4,425.4 L791.5,431.6 L794.6,421.3 L798.3,408.9 L800.8,421.3 L803.8,425.4 L805.9,413.0 L810.0,415.1 L814.2,398.6 L817.3,410.9 L820.3,421.3 L823.4,413.0 L827.6,396.5 L830.7,410.9 L832.7,431.6 L835.8,441.9 L839.9,454.3 L844.1,450.1 L848.2,431.6 L851.3,439.8 L854.4,450.1 L857.5,431.6 L860.6,425.4 L863.7,433.6 L866.8,427.4 L870.9,417.1 L874.0,410.9 L877.1,415.1 L880.2,406.8 L883.3,410.9 L886.4,421.3 L889.4,435.7 L892.5,446.0 L896.7,435.7 L899.8,421.3 L902.9,433.6 L906.0,446.0 L910.1,454.3 L913.2,462.5 L916.3,456.3 L918.1,461.3 L921.2,463.3 L926.3,457.1 L931.5,467.4 L934.6,461.3 L938.3,450.9 L941.8,473.6 L944.9,475.7 L949.0,479.8 L953.1,483.9 L957.3,479.8 L960.3,473.6 L963.4,481.9 L967.6,479.8 L971.7,483.9 L975.8,483.9 L979.9,479.8 L982.0,471.6 L986.1,477.8 L990.3,469.5 L994.4,486.0 L998.5,486.0 L1002.6,475.7 L1006.8,488.1 L1010.9,467.4 L1015.0,440.6 L1018.1,471.6 L1021.2,498.4 L1024.3,477.8 L1027.4,471.6 L1031.5,479.8 L1035.6,477.8 L1039.8,469.5 L1043.9,490.1 L1048.0,481.9 L1052.1,481.9 L1056.3,477.8 L1070.4,526.8 L1074.6,512.4 L1078.7,516.5 L1082.8,504.1 L1086.9,508.3 L1091.1,500.0 L1095.2,504.1 L1099.3,508.3 L1102.4,506.2 L1105.5,533.0 L1109.6,541.3 L1113.8,547.4 L1117.9,528.9 L1122.0,522.7 L1126.1,537.1 L1130.3,545.4 L1134.1,539.2 L1138.3,543.3 L1142.4,553.6 L1146.5,541.3 L1150.6,524.8 L1154.8,535.1 L1158.9,533.0 L1162.0,524.8 L1165.1,535.1 L1168.2,530.9 L1171.3,541.3 L1174.3,545.4 L1177.4,543.3 L1181.6,549.5 L1185.7,551.6 L1189.8,545.4 L1191.9,533.0 L1196.0,547.4 L1200.1,545.4 L1204.3,559.8 L1208.4,557.8 L1211.7,518.8 L1214.6,535.1 L1216.1,535.5 L1220.3,543.8 L1224.4,525.2 L1228.5,531.4 L1232.6,523.1 L1236.8,506.6 L1239.2,498.4 L1241.9,519.0 L1245.0,531.4 L1249.1,535.5 L1253.3,547.9 L1257.4,525.2 L1261.5,533.4 L1264.6,508.7 L1267.7,516.9 L1271.8,506.6 L1274.9,490.1 L1278.0,492.2 L1282.1,508.7 L1285.2,488.1 L1288.3,508.7 L1292.4,502.5 L1296.6,494.3 L1300.7,510.8 L1304.8,506.6 L1308.9,519.0 L1313.1,529.3 L1317.2,519.0 L1321.3,502.5 L1325.4,477.8 L1329.6,490.1 L1333.7,475.7 L1337.8,492.2 L1342.0,467.4 L1346.1,461.3 L1349.2,430.3 L1352.3,430.3 L1355.4,440.6 L1357.0,442.7 L1356.4,512.4 L1352.3,530.9 L1348.1,541.3 L1344.0,545.4 L1339.9,566.0 L1337.8,561.9 L1333.7,551.6 L1329.6,557.8 L1326.5,549.5 L1323.4,553.6 L1320.3,561.9 L1318.2,582.5 L1315.1,584.6 L1312.0,592.8 L1310.0,586.6 L1306.9,576.3 L1302.8,568.1 L1298.6,584.6 L1294.5,566.0 L1290.4,561.9 L1287.3,566.0 L1284.2,582.5 L1282.1,578.4 L1278.0,568.1 L1273.9,557.8 L1270.8,570.1 L1267.7,582.5 L1264.6,578.4 L1261.5,586.6 L1258.4,590.8 L1255.3,596.9 L1252.6,619.6 L1250.2,605.2 L1247.1,590.8 L1244.0,586.6 L1240.9,576.3 L1237.8,572.2 L1234.7,580.4 L1231.6,594.9 L1228.5,582.5 L1226.9,599.0 L1225.4,588.7 L1223.6,609.3 L1220.5,623.8 L1216.4,603.1 L1212.3,585.6 L1209.4,592.8 L1206.3,599.0 L1203.2,603.1 L1200.1,619.6 L1196.0,603.1 L1192.9,607.3 L1189.8,623.8 L1186.7,609.3 L1183.6,599.0 L1179.5,605.2 L1176.4,596.9 L1173.3,605.2 L1170.2,603.1 L1167.1,596.9 L1163.0,588.7 L1158.9,590.8 L1155.8,590.8 L1152.7,594.9 L1148.6,605.2 L1144.4,609.3 L1141.3,634.1 L1138.3,611.4 L1134.1,615.5 L1130.3,609.3 L1126.1,601.1 L1122.0,603.1 L1117.9,596.9 L1114.8,590.8 L1112.7,603.1 L1109.6,596.9 L1106.5,590.8 L1103.4,574.3 L1099.3,563.9 L1095.2,568.1 L1091.1,563.9 L1086.9,566.0 L1082.8,557.8 L1079.7,566.0 L1076.6,561.9 L1073.5,584.6 L1071.5,576.3 L1068.4,568.1 L1065.3,561.9 L1062.2,580.4 L1059.1,557.8 L1056.0,533.0 L1051.9,537.1 L1048.8,539.2 L1045.7,553.6 L1042.6,547.4 L1039.5,541.3 L1036.4,541.3 L1033.3,561.9 L1031.3,551.6 L1029.2,547.4 L1025.7,547.7 L1021.2,557.0 L1019.1,547.9 L1015.0,523.1 L1010.9,541.7 L1006.8,547.9 L1002.6,539.6 L998.5,552.0 L994.4,557.0 L990.3,539.6 L986.1,543.8 L982.0,535.5 L977.9,547.9 L973.8,552.0 L969.6,543.8 L965.5,547.9 L961.4,543.8 L957.3,543.8 L953.1,552.0 L949.0,545.8 L944.9,539.6 L940.8,523.1 L936.6,519.0 L932.5,525.2 L928.4,514.9 L924.3,519.0 L919.7,530.1 L916.1,541.0 L902.9,495.5 L899.8,503.8 L895.2,520.6 L890.5,495.5 L887.4,483.1 L883.3,474.9 L880.2,470.8 L877.1,479.0 L874.0,470.8 L870.9,479.0 L867.8,495.5 L864.7,495.5 L861.6,489.3 L858.5,501.7 L855.4,523.7 L850.3,495.5 L848.2,503.8 L846.1,508.3 L842.4,538.2 L838.4,505.0 L834.8,495.5 L831.7,495.5 L828.6,487.3 L825.5,474.9 L822.4,474.9 L819.3,489.3 L816.2,483.1 L813.1,476.9 L810.0,487.3 L806.9,489.3 L804.9,472.8 L801.8,487.3 L798.7,472.8 L794.6,474.9 L791.5,487.3 L788.4,495.5 L785.3,512.0 L782.2,499.6 L779.1,495.5 L776.0,503.8 Z"/>
<path class="bl" d="M775.9,526.8 L825.3,490.4 L869.9,501.7 L919.4,522.5 L967.2,545.0 L1016.6,565.6 L1064.4,590.8 L1113.8,610.4 L1163.2,615.5 L1211.0,613.4 L1260.5,599.0 L1308.3,572.6 L1356.1,530.5"/>
<path class="pl" d="M776.0,481.1 L778.1,483.1 L780.1,472.8 L781.8,466.6 L783.8,476.9 L785.9,481.1 L788.0,472.8 L790.0,462.5 L792.1,460.4 L794.2,470.8 L796.2,454.3 L798.3,437.8 L800.3,441.9 L802.4,458.4 L804.5,462.5 L806.5,441.9 L808.6,441.9 L810.7,446.0 L812.7,443.9 L814.2,435.7 L816.2,441.9 L818.3,452.2 L820.3,448.1 L822.4,455.3 L824.5,441.9 L826.5,439.8 L828.6,441.9 L830.7,448.1 L832.7,456.3 L834.8,454.3 L836.8,464.6 L838.9,476.9 L841.0,493.4 L843.0,497.6 L845.1,487.3 L847.2,466.6 L849.2,462.5 L851.3,468.7 L853.4,474.9 L855.4,493.4 L857.5,472.8 L859.5,456.3 L861.6,454.3 L863.7,460.4 L865.7,460.4 L867.8,470.8 L869.9,462.5 L871.9,448.1 L874.0,433.6 L876.0,446.0 L878.1,439.8 L880.2,439.8 L882.6,432.6 L884.7,443.9 L886.8,448.1 L888.8,446.0 L890.5,460.4 L892.5,472.8 L894.6,483.1 L896.7,485.2 L898.7,468.7 L900.4,450.1 L902.4,456.3 L904.5,466.6 L906.6,481.1 L908.6,482.1 L910.7,489.3 L912.8,499.6 L914.8,501.7 L916.9,512.0 L918.1,502.5 L918.9,501.7 L920.1,499.4 L922.2,501.5 L924.3,492.2 L926.3,486.0 L928.4,487.0 L930.4,500.4 L932.5,494.3 L934.6,492.2 L936.6,488.1 L938.7,473.6 L940.8,498.4 L942.8,495.3 L944.9,502.5 L946.9,504.6 L949.0,515.9 L951.1,514.9 L953.1,527.3 L955.2,521.1 L957.3,512.8 L959.3,514.9 L961.4,507.7 L963.4,523.1 L965.5,521.1 L967.6,510.8 L969.6,502.5 L971.7,514.9 L973.8,526.2 L975.8,514.9 L977.9,525.2 L979.9,516.9 L982.0,508.7 L984.1,508.7 L986.1,516.9 L988.2,512.8 L989.8,501.5 L991.3,516.9 L992.7,527.3 L994.4,545.8 L996.4,525.2 L998.5,529.3 L1000.6,524.2 L1002.6,505.6 L1004.7,528.3 L1006.8,529.3 L1008.8,527.3 L1010.9,521.1 L1012.9,498.4 L1015.0,477.8 L1017.1,490.1 L1019.1,516.9 L1021.2,543.8 L1023.3,519.0 L1025.3,510.8 L1027.4,510.8 L1029.4,519.0 L1031.5,521.1 L1033.6,527.3 L1035.6,521.1 L1037.7,506.6 L1039.8,496.3 L1041.8,506.6 L1043.9,529.3 L1046.0,525.2 L1048.0,519.0 L1050.1,512.8 L1052.1,508.7 L1053.2,498.4 L1055.2,508.7 L1057.3,508.7 L1059.4,527.3 L1066.3,543.3 L1068.4,548.5 L1070.4,547.4 L1072.5,555.7 L1074.6,545.4 L1076.6,530.9 L1077.7,523.7 L1079.7,530.9 L1081.8,543.3 L1083.9,537.1 L1085.3,526.8 L1086.9,537.1 L1089.0,543.3 L1091.1,541.3 L1093.1,543.3 L1094.2,525.8 L1096.2,524.8 L1098.3,533.0 L1100.4,536.1 L1102.4,537.1 L1104.5,545.4 L1106.5,563.9 L1108.6,566.0 L1110.0,580.4 L1111.7,568.1 L1113.8,572.2 L1115.8,554.7 L1117.9,557.8 L1120.0,555.7 L1122.0,561.9 L1124.1,576.3 L1126.1,572.2 L1128.2,572.2 L1130.3,580.4 L1132.3,584.6 L1135.2,574.3 L1137.2,572.2 L1139.3,582.5 L1141.3,590.8 L1142.4,592.8 L1144.4,578.4 L1146.1,572.2 L1147.5,582.5 L1149.6,578.4 L1151.7,561.9 L1153.1,555.7 L1154.8,560.8 L1156.4,557.8 L1157.8,561.9 L1159.9,555.7 L1161.4,554.7 L1163.0,561.9 L1165.1,572.2 L1167.1,568.1 L1169.2,574.3 L1171.3,576.3 L1172.7,567.0 L1174.3,582.5 L1176.4,578.4 L1177.9,570.1 L1179.1,582.5 L1180.5,570.1 L1182.6,578.4 L1184.7,574.3 L1186.7,580.4 L1188.8,593.9 L1190.8,590.8 L1192.9,570.1 L1195.0,568.1 L1197.0,580.4 L1199.1,580.4 L1201.2,591.8 L1203.2,588.7 L1205.3,584.6 L1207.4,580.4 L1209.4,576.3 L1211.7,546.4 L1213.8,555.7 L1215.9,570.1 L1217.9,589.7 L1220.3,601.1 L1222.3,588.7 L1224.4,561.9 L1225.4,554.7 L1227.5,559.8 L1229.5,554.7 L1231.6,561.9 L1233.7,570.1 L1235.7,553.6 L1237.8,539.2 L1239.8,534.0 L1241.9,553.6 L1242.9,551.6 L1245.0,566.0 L1247.1,559.8 L1249.1,568.1 L1251.2,586.6 L1252.6,599.0 L1254.3,578.4 L1256.3,570.1 L1257.4,557.8 L1259.4,566.0 L1261.5,570.1 L1263.6,551.6 L1265.6,541.3 L1267.7,551.6 L1269.8,551.6 L1271.8,537.1 L1273.9,524.8 L1275.9,528.9 L1278.0,524.8 L1280.1,530.9 L1282.1,541.3 L1284.6,557.8 L1286.3,524.8 L1288.3,535.1 L1290.4,545.4 L1292.4,539.2 L1294.5,528.9 L1296.6,530.9 L1298.6,555.7 L1300.7,545.4 L1302.8,534.0 L1304.8,535.1 L1306.9,551.6 L1308.9,561.9 L1311.0,551.6 L1313.1,559.8 L1315.1,559.8 L1317.2,559.8 L1319.3,553.6 L1320.3,539.2 L1322.4,530.9 L1324.4,512.4 L1326.5,512.4 L1328.5,530.9 L1330.6,524.8 L1333.7,506.2 L1335.8,516.5 L1337.8,520.6 L1339.9,535.1 L1342.0,512.4 L1344.0,508.3 L1346.1,498.4 L1348.1,469.5 L1350.2,464.3 L1352.3,466.4 L1354.3,478.8 L1357.0,479.8"/>
</g>
<line x1="67.90" y1="309.6" x2="67.90" y2="304.1" class="ax"/>
<line x1="67.90" y1="35.8" x2="67.90" y2="41.3" class="ax"/>
<line x1="117.34" y1="309.6" x2="117.34" y2="304.1" class="ax"/>
<line x1="117.34" y1="35.8" x2="117.34" y2="41.3" class="ax"/>
<line x1="161.99" y1="309.6" x2="161.99" y2="304.1" class="ax"/>
<line x1="161.99" y1="35.8" x2="161.99" y2="41.3" class="ax"/>
<line x1="211.43" y1="309.6" x2="211.43" y2="304.1" class="ax"/>
<line x1="211.43" y1="35.8" x2="211.43" y2="41.3" class="ax"/>
<line x1="259.27" y1="309.6" x2="259.27" y2="304.1" class="ax"/>
<line x1="259.27" y1="35.8" x2="259.27" y2="41.3" class="ax"/>
<line x1="308.71" y1="309.6" x2="308.71" y2="304.1" class="ax"/>
<line x1="308.71" y1="35.8" x2="308.71" y2="41.3" class="ax"/>
<line x1="356.56" y1="309.6" x2="356.56" y2="304.1" class="ax"/>
<line x1="356.56" y1="35.8" x2="356.56" y2="41.3" class="ax"/>
<line x1="405.99" y1="309.6" x2="405.99" y2="304.1" class="ax"/>
<line x1="405.99" y1="35.8" x2="405.99" y2="41.3" class="ax"/>
<line x1="455.43" y1="309.6" x2="455.43" y2="304.1" class="ax"/>
<line x1="455.43" y1="35.8" x2="455.43" y2="41.3" class="ax"/>
<line x1="503.27" y1="309.6" x2="503.27" y2="304.1" class="ax"/>
<line x1="503.27" y1="35.8" x2="503.27" y2="41.3" class="ax"/>
<line x1="552.71" y1="309.6" x2="552.71" y2="304.1" class="ax"/>
<line x1="552.71" y1="35.8" x2="552.71" y2="41.3" class="ax"/>
<line x1="600.56" y1="309.6" x2="600.56" y2="304.1" class="ax"/>
<line x1="600.56" y1="35.8" x2="600.56" y2="41.3" class="ax"/>
<line x1="67.9" y1="292.49" x2="73.4" y2="292.49" class="ax"/>
<line x1="648.4" y1="292.49" x2="642.9" y2="292.49" class="ax"/>
<line x1="67.9" y1="224.04" x2="73.4" y2="224.04" class="ax"/>
<line x1="648.4" y1="224.04" x2="642.9" y2="224.04" class="ax"/>
<line x1="67.9" y1="155.59" x2="73.4" y2="155.59" class="ax"/>
<line x1="648.4" y1="155.59" x2="642.9" y2="155.59" class="ax"/>
<line x1="67.9" y1="87.14" x2="73.4" y2="87.14" class="ax"/>
<line x1="648.4" y1="87.14" x2="642.9" y2="87.14" class="ax"/>
<rect x="67.9" y="35.8" width="580.50" height="273.80" class="box"/>
<text x="67.90" y="334.50" class="tl" text-anchor="middle">J</text>
<text x="117.34" y="334.50" class="tl" text-anchor="middle">F</text>
<text x="161.99" y="334.50" class="tl" text-anchor="middle">M</text>
<text x="211.43" y="334.50" class="tl" text-anchor="middle">A</text>
<text x="259.27" y="334.50" class="tl" text-anchor="middle">M</text>
<text x="308.71" y="334.50" class="tl" text-anchor="middle">J</text>
<text x="356.56" y="334.50" class="tl" text-anchor="middle">J</text>
<text x="405.99" y="334.50" class="tl" text-anchor="middle">A</text>
<text x="455.43" y="334.50" class="tl" text-anchor="middle">S</text>
<text x="503.27" y="334.50" class="tl" text-anchor="middle">O</text>
<text x="552.71" y="334.50" class="tl" text-anchor="middle">N</text>
<text x="600.56" y="334.50" class="tl" text-anchor="middle">D</text>
<text x="62.00" y="299.89" class="tl" text-anchor="end" textLength="22.77" lengthAdjust="spacingAndGlyphs">22</text>
<text x="62.00" y="231.44" class="tl" text-anchor="end" textLength="22.77" lengthAdjust="spacingAndGlyphs">24</text>
<text x="62.00" y="162.99" class="tl" text-anchor="end" textLength="22.77" lengthAdjust="spacingAndGlyphs">26</text>
<text x="62.00" y="94.54" class="tl" text-anchor="end" textLength="22.77" lengthAdjust="spacingAndGlyphs">28</text>
<text class="lab" transform="translate(20,178.4) rotate(-90)" text-anchor="middle">SST (°C)</text>
<text class="let" x="7.5" y="24.3">A</text>
<line x1="775.90" y1="309.6" x2="775.90" y2="304.1" class="ax"/>
<line x1="775.90" y1="35.1" x2="775.90" y2="40.6" class="ax"/>
<line x1="825.32" y1="309.6" x2="825.32" y2="304.1" class="ax"/>
<line x1="825.32" y1="35.1" x2="825.32" y2="40.6" class="ax"/>
<line x1="869.96" y1="309.6" x2="869.96" y2="304.1" class="ax"/>
<line x1="869.96" y1="35.1" x2="869.96" y2="40.6" class="ax"/>
<line x1="919.38" y1="309.6" x2="919.38" y2="304.1" class="ax"/>
<line x1="919.38" y1="35.1" x2="919.38" y2="40.6" class="ax"/>
<line x1="967.21" y1="309.6" x2="967.21" y2="304.1" class="ax"/>
<line x1="967.21" y1="35.1" x2="967.21" y2="40.6" class="ax"/>
<line x1="1016.63" y1="309.6" x2="1016.63" y2="304.1" class="ax"/>
<line x1="1016.63" y1="35.1" x2="1016.63" y2="40.6" class="ax"/>
<line x1="1064.46" y1="309.6" x2="1064.46" y2="304.1" class="ax"/>
<line x1="1064.46" y1="35.1" x2="1064.46" y2="40.6" class="ax"/>
<line x1="1113.88" y1="309.6" x2="1113.88" y2="304.1" class="ax"/>
<line x1="1113.88" y1="35.1" x2="1113.88" y2="40.6" class="ax"/>
<line x1="1163.30" y1="309.6" x2="1163.30" y2="304.1" class="ax"/>
<line x1="1163.30" y1="35.1" x2="1163.30" y2="40.6" class="ax"/>
<line x1="1211.12" y1="309.6" x2="1211.12" y2="304.1" class="ax"/>
<line x1="1211.12" y1="35.1" x2="1211.12" y2="40.6" class="ax"/>
<line x1="1260.55" y1="309.6" x2="1260.55" y2="304.1" class="ax"/>
<line x1="1260.55" y1="35.1" x2="1260.55" y2="40.6" class="ax"/>
<line x1="1308.37" y1="309.6" x2="1308.37" y2="304.1" class="ax"/>
<line x1="1308.37" y1="35.1" x2="1308.37" y2="40.6" class="ax"/>
<line x1="775.9" y1="300.45" x2="781.4" y2="300.45" class="ax"/>
<line x1="1356.9" y1="300.45" x2="1351.4" y2="300.45" class="ax"/>
<line x1="775.9" y1="254.70" x2="781.4" y2="254.70" class="ax"/>
<line x1="1356.9" y1="254.70" x2="1351.4" y2="254.70" class="ax"/>
<line x1="775.9" y1="208.95" x2="781.4" y2="208.95" class="ax"/>
<line x1="1356.9" y1="208.95" x2="1351.4" y2="208.95" class="ax"/>
<line x1="775.9" y1="163.20" x2="781.4" y2="163.20" class="ax"/>
<line x1="1356.9" y1="163.20" x2="1351.4" y2="163.20" class="ax"/>
<line x1="775.9" y1="117.45" x2="781.4" y2="117.45" class="ax"/>
<line x1="1356.9" y1="117.45" x2="1351.4" y2="117.45" class="ax"/>
<line x1="775.9" y1="71.70" x2="781.4" y2="71.70" class="ax"/>
<line x1="1356.9" y1="71.70" x2="1351.4" y2="71.70" class="ax"/>
<rect x="775.9" y="35.1" width="581.00" height="274.50" class="box"/>
<text x="775.90" y="334.50" class="tl" text-anchor="middle">J</text>
<text x="825.32" y="334.50" class="tl" text-anchor="middle">F</text>
<text x="869.96" y="334.50" class="tl" text-anchor="middle">M</text>
<text x="919.38" y="334.50" class="tl" text-anchor="middle">A</text>
<text x="967.21" y="334.50" class="tl" text-anchor="middle">M</text>
<text x="1016.63" y="334.50" class="tl" text-anchor="middle">J</text>
<text x="1064.46" y="334.50" class="tl" text-anchor="middle">J</text>
<text x="1113.88" y="334.50" class="tl" text-anchor="middle">A</text>
<text x="1163.30" y="334.50" class="tl" text-anchor="middle">S</text>
<text x="1211.12" y="334.50" class="tl" text-anchor="middle">O</text>
<text x="1260.55" y="334.50" class="tl" text-anchor="middle">N</text>
<text x="1308.37" y="334.50" class="tl" text-anchor="middle">D</text>
<text x="770.00" y="307.85" class="tl" text-anchor="end" textLength="22.77" lengthAdjust="spacingAndGlyphs">25</text>
<text x="770.00" y="262.10" class="tl" text-anchor="end" textLength="22.77" lengthAdjust="spacingAndGlyphs">30</text>
<text x="770.00" y="216.35" class="tl" text-anchor="end" textLength="22.77" lengthAdjust="spacingAndGlyphs">35</text>
<text x="770.00" y="170.60" class="tl" text-anchor="end" textLength="22.77" lengthAdjust="spacingAndGlyphs">40</text>
<text x="770.00" y="124.85" class="tl" text-anchor="end" textLength="22.77" lengthAdjust="spacingAndGlyphs">45</text>
<text x="770.00" y="79.10" class="tl" text-anchor="end" textLength="22.77" lengthAdjust="spacingAndGlyphs">50</text>
<text class="lab" transform="translate(729.5,178.5) rotate(-90)" text-anchor="middle" textLength="239.5">PAR at 5 m (mol m<tspan class="sup" dy="-10">-2</tspan><tspan dy="10"> d</tspan><tspan class="sup" dy="-10">-1</tspan><tspan dy="10">)</tspan></text>
<text class="let" x="719" y="24.3">B</text>
<line x1="67.90" y1="638.7" x2="67.90" y2="633.2" class="ax"/>
<line x1="67.90" y1="365.5" x2="67.90" y2="371.0" class="ax"/>
<line x1="117.34" y1="638.7" x2="117.34" y2="633.2" class="ax"/>
<line x1="117.34" y1="365.5" x2="117.34" y2="371.0" class="ax"/>
<line x1="161.99" y1="638.7" x2="161.99" y2="633.2" class="ax"/>
<line x1="161.99" y1="365.5" x2="161.99" y2="371.0" class="ax"/>
<line x1="211.43" y1="638.7" x2="211.43" y2="633.2" class="ax"/>
<line x1="211.43" y1="365.5" x2="211.43" y2="371.0" class="ax"/>
<line x1="259.27" y1="638.7" x2="259.27" y2="633.2" class="ax"/>
<line x1="259.27" y1="365.5" x2="259.27" y2="371.0" class="ax"/>
<line x1="308.71" y1="638.7" x2="308.71" y2="633.2" class="ax"/>
<line x1="308.71" y1="365.5" x2="308.71" y2="371.0" class="ax"/>
<line x1="356.56" y1="638.7" x2="356.56" y2="633.2" class="ax"/>
<line x1="356.56" y1="365.5" x2="356.56" y2="371.0" class="ax"/>
<line x1="405.99" y1="638.7" x2="405.99" y2="633.2" class="ax"/>
<line x1="405.99" y1="365.5" x2="405.99" y2="371.0" class="ax"/>
<line x1="455.43" y1="638.7" x2="455.43" y2="633.2" class="ax"/>
<line x1="455.43" y1="365.5" x2="455.43" y2="371.0" class="ax"/>
<line x1="503.27" y1="638.7" x2="503.27" y2="633.2" class="ax"/>
<line x1="503.27" y1="365.5" x2="503.27" y2="371.0" class="ax"/>
<line x1="552.71" y1="638.7" x2="552.71" y2="633.2" class="ax"/>
<line x1="552.71" y1="365.5" x2="552.71" y2="371.0" class="ax"/>
<line x1="600.56" y1="638.7" x2="600.56" y2="633.2" class="ax"/>
<line x1="600.56" y1="365.5" x2="600.56" y2="371.0" class="ax"/>
<line x1="67.9" y1="638.70" x2="73.4" y2="638.70" class="ax"/>
<line x1="648.4" y1="638.70" x2="642.9" y2="638.70" class="ax"/>
<line x1="67.9" y1="599.67" x2="73.4" y2="599.67" class="ax"/>
<line x1="648.4" y1="599.67" x2="642.9" y2="599.67" class="ax"/>
<line x1="67.9" y1="560.64" x2="73.4" y2="560.64" class="ax"/>
<line x1="648.4" y1="560.64" x2="642.9" y2="560.64" class="ax"/>
<line x1="67.9" y1="521.61" x2="73.4" y2="521.61" class="ax"/>
<line x1="648.4" y1="521.61" x2="642.9" y2="521.61" class="ax"/>
<line x1="67.9" y1="482.59" x2="73.4" y2="482.59" class="ax"/>
<line x1="648.4" y1="482.59" x2="642.9" y2="482.59" class="ax"/>
<line x1="67.9" y1="443.56" x2="73.4" y2="443.56" class="ax"/>
<line x1="648.4" y1="443.56" x2="642.9" y2="443.56" class="ax"/>
<line x1="67.9" y1="404.53" x2="73.4" y2="404.53" class="ax"/>
<line x1="648.4" y1="404.53" x2="642.9" y2="404.53" class="ax"/>
<line x1="67.9" y1="365.50" x2="73.4" y2="365.50" class="ax"/>
<line x1="648.4" y1="365.50" x2="642.9" y2="365.50" class="ax"/>
<rect x="67.9" y="365.5" width="580.50" height="273.20" class="box"/>
<text x="67.90" y="663.60" class="tl" text-anchor="middle">J</text>
<text x="117.34" y="663.60" class="tl" text-anchor="middle">F</text>
<text x="161.99" y="663.60" class="tl" text-anchor="middle">M</text>
<text x="211.43" y="663.60" class="tl" text-anchor="middle">A</text>
<text x="259.27" y="663.60" class="tl" text-anchor="middle">M</text>
<text x="308.71" y="663.60" class="tl" text-anchor="middle">J</text>
<text x="356.56" y="663.60" class="tl" text-anchor="middle">J</text>
<text x="405.99" y="663.60" class="tl" text-anchor="middle">A</text>
<text x="455.43" y="663.60" class="tl" text-anchor="middle">S</text>
<text x="503.27" y="663.60" class="tl" text-anchor="middle">O</text>
<text x="552.71" y="663.60" class="tl" text-anchor="middle">N</text>
<text x="600.56" y="663.60" class="tl" text-anchor="middle">D</text>
<text x="62.00" y="646.10" class="tl" text-anchor="end" textLength="11.38" lengthAdjust="spacingAndGlyphs">2</text>
<text x="62.00" y="607.07" class="tl" text-anchor="end" textLength="11.38" lengthAdjust="spacingAndGlyphs">3</text>
<text x="62.00" y="568.04" class="tl" text-anchor="end" textLength="11.38" lengthAdjust="spacingAndGlyphs">4</text>
<text x="62.00" y="529.01" class="tl" text-anchor="end" textLength="11.38" lengthAdjust="spacingAndGlyphs">5</text>
<text x="62.00" y="489.99" class="tl" text-anchor="end" textLength="11.38" lengthAdjust="spacingAndGlyphs">6</text>
<text x="62.00" y="450.96" class="tl" text-anchor="end" textLength="11.38" lengthAdjust="spacingAndGlyphs">7</text>
<text x="62.00" y="411.93" class="tl" text-anchor="end" textLength="11.38" lengthAdjust="spacingAndGlyphs">8</text>
<text x="62.00" y="372.90" class="tl" text-anchor="end" textLength="11.38" lengthAdjust="spacingAndGlyphs">9</text>
<text class="lab" transform="translate(23.5,502.2) rotate(-90)" text-anchor="middle" textLength="179.6">wind speed (m s<tspan class="sup" dy="-10">-1</tspan><tspan dy="10">)</tspan></text>
<text class="let" x="8.5" y="350.5">C</text>
<line x1="775.90" y1="638.7" x2="775.90" y2="633.2" class="ax"/>
<line x1="775.90" y1="365.5" x2="775.90" y2="371.0" class="ax"/>
<line x1="825.32" y1="638.7" x2="825.32" y2="633.2" class="ax"/>
<line x1="825.32" y1="365.5" x2="825.32" y2="371.0" class="ax"/>
<line x1="869.96" y1="638.7" x2="869.96" y2="633.2" class="ax"/>
<line x1="869.96" y1="365.5" x2="869.96" y2="371.0" class="ax"/>
<line x1="919.38" y1="638.7" x2="919.38" y2="633.2" class="ax"/>
<line x1="919.38" y1="365.5" x2="919.38" y2="371.0" class="ax"/>
<line x1="967.21" y1="638.7" x2="967.21" y2="633.2" class="ax"/>
<line x1="967.21" y1="365.5" x2="967.21" y2="371.0" class="ax"/>
<line x1="1016.63" y1="638.7" x2="1016.63" y2="633.2" class="ax"/>
<line x1="1016.63" y1="365.5" x2="1016.63" y2="371.0" class="ax"/>
<line x1="1064.46" y1="638.7" x2="1064.46" y2="633.2" class="ax"/>
<line x1="1064.46" y1="365.5" x2="1064.46" y2="371.0" class="ax"/>
<line x1="1113.88" y1="638.7" x2="1113.88" y2="633.2" class="ax"/>
<line x1="1113.88" y1="365.5" x2="1113.88" y2="371.0" class="ax"/>
<line x1="1163.30" y1="638.7" x2="1163.30" y2="633.2" class="ax"/>
<line x1="1163.30" y1="365.5" x2="1163.30" y2="371.0" class="ax"/>
<line x1="1211.12" y1="638.7" x2="1211.12" y2="633.2" class="ax"/>
<line x1="1211.12" y1="365.5" x2="1211.12" y2="371.0" class="ax"/>
<line x1="1260.55" y1="638.7" x2="1260.55" y2="633.2" class="ax"/>
<line x1="1260.55" y1="365.5" x2="1260.55" y2="371.0" class="ax"/>
<line x1="1308.37" y1="638.7" x2="1308.37" y2="633.2" class="ax"/>
<line x1="1308.37" y1="365.5" x2="1308.37" y2="371.0" class="ax"/>
<line x1="775.9" y1="638.70" x2="781.4" y2="638.70" class="ax"/>
<line x1="1356.9" y1="638.70" x2="1351.4" y2="638.70" class="ax"/>
<line x1="775.9" y1="593.17" x2="781.4" y2="593.17" class="ax"/>
<line x1="1356.9" y1="593.17" x2="1351.4" y2="593.17" class="ax"/>
<line x1="775.9" y1="547.63" x2="781.4" y2="547.63" class="ax"/>
<line x1="1356.9" y1="547.63" x2="1351.4" y2="547.63" class="ax"/>
<line x1="775.9" y1="502.10" x2="781.4" y2="502.10" class="ax"/>
<line x1="1356.9" y1="502.10" x2="1351.4" y2="502.10" class="ax"/>
<line x1="775.9" y1="456.57" x2="781.4" y2="456.57" class="ax"/>
<line x1="1356.9" y1="456.57" x2="1351.4" y2="456.57" class="ax"/>
<line x1="775.9" y1="411.03" x2="781.4" y2="411.03" class="ax"/>
<line x1="1356.9" y1="411.03" x2="1351.4" y2="411.03" class="ax"/>
<line x1="775.9" y1="365.50" x2="781.4" y2="365.50" class="ax"/>
<line x1="1356.9" y1="365.50" x2="1351.4" y2="365.50" class="ax"/>
<rect x="775.9" y="365.5" width="581.00" height="273.20" class="box"/>
<text x="775.90" y="663.60" class="tl" text-anchor="middle">J</text>
<text x="825.32" y="663.60" class="tl" text-anchor="middle">F</text>
<text x="869.96" y="663.60" class="tl" text-anchor="middle">M</text>
<text x="919.38" y="663.60" class="tl" text-anchor="middle">A</text>
<text x="967.21" y="663.60" class="tl" text-anchor="middle">M</text>
<text x="1016.63" y="663.60" class="tl" text-anchor="middle">J</text>
<text x="1064.46" y="663.60" class="tl" text-anchor="middle">J</text>
<text x="1113.88" y="663.60" class="tl" text-anchor="middle">A</text>
<text x="1163.30" y="663.60" class="tl" text-anchor="middle">S</text>
<text x="1211.12" y="663.60" class="tl" text-anchor="middle">O</text>
<text x="1260.55" y="663.60" class="tl" text-anchor="middle">N</text>
<text x="1308.37" y="663.60" class="tl" text-anchor="middle">D</text>
<text x="770.00" y="646.10" class="tl" text-anchor="end" textLength="22.77" lengthAdjust="spacingAndGlyphs">30</text>
<text x="770.00" y="600.57" class="tl" text-anchor="end" textLength="22.77" lengthAdjust="spacingAndGlyphs">40</text>
<text x="770.00" y="555.03" class="tl" text-anchor="end" textLength="22.77" lengthAdjust="spacingAndGlyphs">50</text>
<text x="770.00" y="509.50" class="tl" text-anchor="end" textLength="22.77" lengthAdjust="spacingAndGlyphs">60</text>
<text x="770.00" y="463.97" class="tl" text-anchor="end" textLength="22.77" lengthAdjust="spacingAndGlyphs">70</text>
<text x="770.00" y="418.43" class="tl" text-anchor="end" textLength="22.77" lengthAdjust="spacingAndGlyphs">80</text>
<text x="770.00" y="372.90" class="tl" text-anchor="end" textLength="22.77" lengthAdjust="spacingAndGlyphs">90</text>
<text class="lab" transform="translate(731,502) rotate(-90)" text-anchor="middle" textLength="151.7">cloud cover (%)</text>
<text class="let" x="719" y="350.5">D</text>
<rect x="1200" y="246" width="155.5" height="62.8" fill="#fff"/>
<rect x="1200.5" y="246.5" width="151" height="57" fill="#fff" stroke="#777" stroke-width="1"/>
<line x1="1206" y1="261.3" x2="1247" y2="261.3" stroke="#8b278f" stroke-width="5"/>
<line x1="1206" y1="288" x2="1247" y2="288" stroke="#050505" stroke-width="5"/>
<text x="1250" y="270.2" style="font-size:22px">Observed</text>
<text x="1250" y="296.2" style="font-size:22px">CMIP6</text>
</svg></body></html>
